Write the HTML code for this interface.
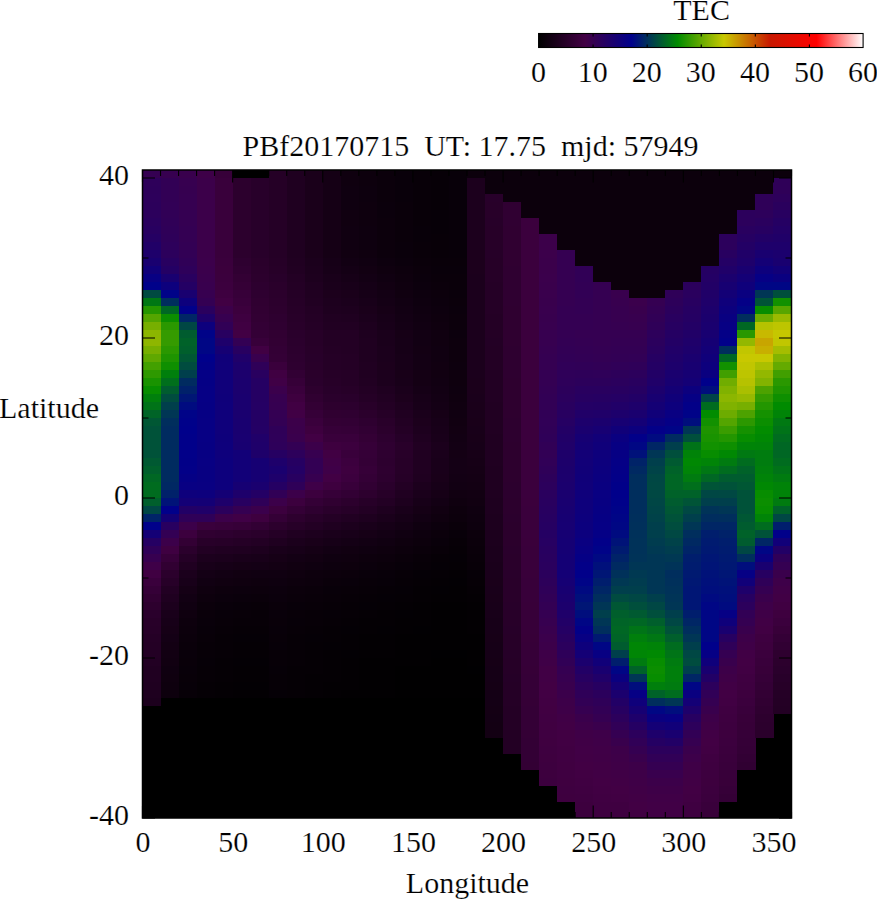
<!DOCTYPE html><html><head><meta charset="utf-8"><title>TEC</title><style>
html,body{margin:0;padding:0;background:#fff;}svg{display:block;}text{font-family:"Liberation Serif",serif;font-size:30px;fill:#000;stroke:#fff;stroke-width:0.2px;}
</style></head><body>
<svg width="877" height="900" viewBox="0 0 877 900">
<rect x="0" y="0" width="877" height="900" fill="#fff"/>
<defs><linearGradient id="cb" x1="0" y1="0" x2="1" y2="0">
<stop offset="0.0000" stop-color="#000000"/>
<stop offset="0.1428" stop-color="#420044"/>
<stop offset="0.2857" stop-color="#00008b"/>
<stop offset="0.4285" stop-color="#008b00"/>
<stop offset="0.5715" stop-color="#c8c800"/>
<stop offset="0.7143" stop-color="#c81800"/>
<stop offset="0.8572" stop-color="#ff0000"/>
<stop offset="1.0000" stop-color="#ffffff"/>
</linearGradient></defs>
<rect x="538.6" y="33.5" width="324.5" height="14" fill="url(#cb)" stroke="#000" stroke-width="1.1"/>
<path d="M593.08 33.5 v3 M593.08 47.5 v-3" stroke="#000" stroke-width="1.1"/>
<path d="M647.17 33.5 v3 M647.17 47.5 v-3" stroke="#000" stroke-width="1.1"/>
<path d="M701.25 33.5 v3 M701.25 47.5 v-3" stroke="#000" stroke-width="1.1"/>
<path d="M755.33 33.5 v3 M755.33 47.5 v-3" stroke="#000" stroke-width="1.1"/>
<path d="M809.42 33.5 v3 M809.42 47.5 v-3" stroke="#000" stroke-width="1.1"/>
<text x="538.60" y="82" text-anchor="middle">0</text>
<text x="592.68" y="82" text-anchor="middle">10</text>
<text x="646.77" y="82" text-anchor="middle">20</text>
<text x="700.85" y="82" text-anchor="middle">30</text>
<text x="754.93" y="82" text-anchor="middle">40</text>
<text x="809.02" y="82" text-anchor="middle">50</text>
<text x="863.10" y="82" text-anchor="middle">60</text>
<text x="701.6" y="20" text-anchor="middle">TEC</text>
<g shape-rendering="crispEdges">
<rect x="142.5" y="170" width="649" height="648" fill="#000"/>
<rect x="142.50" y="698.00" width="18.08" height="8.05" fill="#1c001d"/>
<rect x="142.50" y="690.00" width="18.08" height="8.05" fill="#1e001f"/>
<rect x="142.50" y="682.00" width="18.08" height="8.05" fill="#1f0020"/>
<rect x="142.50" y="666.00" width="18.08" height="16.05" fill="#200021"/>
<rect x="142.50" y="658.00" width="18.08" height="8.05" fill="#220023"/>
<rect x="142.50" y="650.00" width="18.08" height="8.05" fill="#230024"/>
<rect x="142.50" y="642.00" width="18.08" height="8.05" fill="#240025"/>
<rect x="142.50" y="634.00" width="18.08" height="8.05" fill="#250026"/>
<rect x="142.50" y="626.00" width="18.08" height="8.05" fill="#270028"/>
<rect x="142.50" y="618.00" width="18.08" height="8.05" fill="#280029"/>
<rect x="142.50" y="610.00" width="18.08" height="8.05" fill="#2a002c"/>
<rect x="142.50" y="602.00" width="18.08" height="8.05" fill="#2d002e"/>
<rect x="142.50" y="594.00" width="18.08" height="8.05" fill="#310032"/>
<rect x="142.50" y="586.00" width="18.08" height="8.05" fill="#350037"/>
<rect x="142.50" y="578.00" width="18.08" height="8.05" fill="#3a003c"/>
<rect x="142.50" y="570.00" width="18.08" height="8.05" fill="#400042"/>
<rect x="142.50" y="562.00" width="18.08" height="8.05" fill="#3f0048"/>
<rect x="142.50" y="554.00" width="18.08" height="8.05" fill="#370050"/>
<rect x="142.50" y="546.00" width="18.08" height="8.05" fill="#2f0058"/>
<rect x="142.50" y="538.00" width="18.08" height="8.05" fill="#250063"/>
<rect x="142.50" y="530.00" width="18.08" height="8.05" fill="#140076"/>
<rect x="142.50" y="522.00" width="18.08" height="8.05" fill="#00018a"/>
<rect x="142.50" y="514.00" width="18.08" height="8.05" fill="#002368"/>
<rect x="142.50" y="506.00" width="18.08" height="8.05" fill="#004744"/>
<rect x="142.50" y="498.00" width="18.08" height="8.05" fill="#005f2c"/>
<rect x="142.50" y="482.00" width="18.08" height="16.05" fill="#006c1f"/>
<rect x="142.50" y="474.00" width="18.08" height="8.05" fill="#006724"/>
<rect x="142.50" y="466.00" width="18.08" height="8.05" fill="#005f2c"/>
<rect x="142.50" y="458.00" width="18.08" height="8.05" fill="#005932"/>
<rect x="142.50" y="426.00" width="18.08" height="32.05" fill="#005239"/>
<rect x="142.50" y="418.00" width="18.08" height="8.05" fill="#005734"/>
<rect x="142.50" y="410.00" width="18.08" height="8.05" fill="#006427"/>
<rect x="142.50" y="402.00" width="18.08" height="8.05" fill="#007318"/>
<rect x="142.50" y="394.00" width="18.08" height="8.05" fill="#007f0c"/>
<rect x="142.50" y="386.00" width="18.08" height="8.05" fill="#078d00"/>
<rect x="142.50" y="378.00" width="18.08" height="8.05" fill="#199300"/>
<rect x="142.50" y="370.00" width="18.08" height="8.05" fill="#2e9900"/>
<rect x="142.50" y="362.00" width="18.08" height="8.05" fill="#43a000"/>
<rect x="142.50" y="354.00" width="18.08" height="8.05" fill="#5fa800"/>
<rect x="142.50" y="346.00" width="18.08" height="8.05" fill="#77af00"/>
<rect x="142.50" y="338.00" width="18.08" height="8.05" fill="#8eb600"/>
<rect x="142.50" y="330.00" width="18.08" height="8.05" fill="#8cb600"/>
<rect x="142.50" y="322.00" width="18.08" height="8.05" fill="#77af00"/>
<rect x="142.50" y="314.00" width="18.08" height="8.05" fill="#54a500"/>
<rect x="142.50" y="306.00" width="18.08" height="8.05" fill="#259600"/>
<rect x="142.50" y="298.00" width="18.08" height="8.05" fill="#007714"/>
<rect x="142.50" y="290.00" width="18.08" height="8.05" fill="#004a41"/>
<rect x="142.50" y="282.00" width="18.08" height="8.05" fill="#00018a"/>
<rect x="142.50" y="274.00" width="18.08" height="8.05" fill="#080083"/>
<rect x="142.50" y="266.00" width="18.08" height="8.05" fill="#110079"/>
<rect x="142.50" y="258.00" width="18.08" height="8.05" fill="#190070"/>
<rect x="142.50" y="250.00" width="18.08" height="8.05" fill="#1e006b"/>
<rect x="142.50" y="242.00" width="18.08" height="8.05" fill="#210067"/>
<rect x="142.50" y="234.00" width="18.08" height="8.05" fill="#250063"/>
<rect x="142.50" y="226.00" width="18.08" height="8.05" fill="#280060"/>
<rect x="142.50" y="218.00" width="18.08" height="8.05" fill="#2a005e"/>
<rect x="142.50" y="210.00" width="18.08" height="8.05" fill="#2c005c"/>
<rect x="142.50" y="202.00" width="18.08" height="8.05" fill="#2c005b"/>
<rect x="142.50" y="194.00" width="18.08" height="8.05" fill="#2d005b"/>
<rect x="142.50" y="186.00" width="18.08" height="8.05" fill="#2d005a"/>
<rect x="142.50" y="178.00" width="18.08" height="8.05" fill="#2e005a"/>
<rect x="142.50" y="170.00" width="18.08" height="8.05" fill="#350052"/>
<rect x="160.53" y="690.00" width="18.08" height="8.05" fill="#0d000d"/>
<rect x="160.53" y="682.00" width="18.08" height="8.05" fill="#0e000e"/>
<rect x="160.53" y="674.00" width="18.08" height="8.05" fill="#0f000f"/>
<rect x="160.53" y="666.00" width="18.08" height="8.05" fill="#0f0010"/>
<rect x="160.53" y="658.00" width="18.08" height="8.05" fill="#110011"/>
<rect x="160.53" y="650.00" width="18.08" height="8.05" fill="#120012"/>
<rect x="160.53" y="642.00" width="18.08" height="8.05" fill="#130013"/>
<rect x="160.53" y="634.00" width="18.08" height="8.05" fill="#140015"/>
<rect x="160.53" y="626.00" width="18.08" height="8.05" fill="#160016"/>
<rect x="160.53" y="618.00" width="18.08" height="8.05" fill="#170018"/>
<rect x="160.53" y="610.00" width="18.08" height="8.05" fill="#19001a"/>
<rect x="160.53" y="602.00" width="18.08" height="8.05" fill="#1c001d"/>
<rect x="160.53" y="594.00" width="18.08" height="8.05" fill="#1f0020"/>
<rect x="160.53" y="586.00" width="18.08" height="8.05" fill="#220023"/>
<rect x="160.53" y="578.00" width="18.08" height="8.05" fill="#270028"/>
<rect x="160.53" y="570.00" width="18.08" height="8.05" fill="#2b002c"/>
<rect x="160.53" y="562.00" width="18.08" height="8.05" fill="#310032"/>
<rect x="160.53" y="554.00" width="18.08" height="8.05" fill="#370039"/>
<rect x="160.53" y="546.00" width="18.08" height="8.05" fill="#3f0041"/>
<rect x="160.53" y="538.00" width="18.08" height="8.05" fill="#3c004a"/>
<rect x="160.53" y="530.00" width="18.08" height="8.05" fill="#330054"/>
<rect x="160.53" y="522.00" width="18.08" height="8.05" fill="#280060"/>
<rect x="160.53" y="514.00" width="18.08" height="8.05" fill="#140075"/>
<rect x="160.53" y="506.00" width="18.08" height="8.05" fill="#01008a"/>
<rect x="160.53" y="498.00" width="18.08" height="8.05" fill="#001378"/>
<rect x="160.53" y="490.00" width="18.08" height="8.05" fill="#00216a"/>
<rect x="160.53" y="482.00" width="18.08" height="8.05" fill="#002863"/>
<rect x="160.53" y="426.00" width="18.08" height="56.05" fill="#002b60"/>
<rect x="160.53" y="418.00" width="18.08" height="8.05" fill="#002e5d"/>
<rect x="160.53" y="410.00" width="18.08" height="8.05" fill="#003655"/>
<rect x="160.53" y="402.00" width="18.08" height="8.05" fill="#003f4c"/>
<rect x="160.53" y="394.00" width="18.08" height="8.05" fill="#004c3f"/>
<rect x="160.53" y="386.00" width="18.08" height="8.05" fill="#005c2f"/>
<rect x="160.53" y="378.00" width="18.08" height="8.05" fill="#006f1c"/>
<rect x="160.53" y="370.00" width="18.08" height="8.05" fill="#007f0c"/>
<rect x="160.53" y="362.00" width="18.08" height="8.05" fill="#0e8f00"/>
<rect x="160.53" y="354.00" width="18.08" height="8.05" fill="#1e9400"/>
<rect x="160.53" y="346.00" width="18.08" height="8.05" fill="#2a9800"/>
<rect x="160.53" y="330.00" width="18.08" height="16.05" fill="#359b00"/>
<rect x="160.53" y="322.00" width="18.08" height="8.05" fill="#2a9800"/>
<rect x="160.53" y="314.00" width="18.08" height="8.05" fill="#0b8e00"/>
<rect x="160.53" y="306.00" width="18.08" height="8.05" fill="#006724"/>
<rect x="160.53" y="298.00" width="18.08" height="8.05" fill="#002e5d"/>
<rect x="160.53" y="290.00" width="18.08" height="8.05" fill="#000388"/>
<rect x="160.53" y="282.00" width="18.08" height="8.05" fill="#0d007d"/>
<rect x="160.53" y="274.00" width="18.08" height="8.05" fill="#190070"/>
<rect x="160.53" y="266.00" width="18.08" height="8.05" fill="#240064"/>
<rect x="160.53" y="258.00" width="18.08" height="8.05" fill="#280060"/>
<rect x="160.53" y="250.00" width="18.08" height="8.05" fill="#2c005c"/>
<rect x="160.53" y="242.00" width="18.08" height="8.05" fill="#2d005b"/>
<rect x="160.53" y="234.00" width="18.08" height="8.05" fill="#2e0059"/>
<rect x="160.53" y="226.00" width="18.08" height="8.05" fill="#2f0058"/>
<rect x="160.53" y="218.00" width="18.08" height="8.05" fill="#300057"/>
<rect x="160.53" y="210.00" width="18.08" height="8.05" fill="#310056"/>
<rect x="160.53" y="202.00" width="18.08" height="8.05" fill="#320056"/>
<rect x="160.53" y="178.00" width="18.08" height="24.05" fill="#320055"/>
<rect x="160.53" y="170.00" width="18.08" height="8.05" fill="#370050"/>
<rect x="178.56" y="690.00" width="18.08" height="8.05" fill="#070007"/>
<rect x="178.56" y="682.00" width="18.08" height="8.05" fill="#070008"/>
<rect x="178.56" y="674.00" width="18.08" height="8.05" fill="#080008"/>
<rect x="178.56" y="666.00" width="18.08" height="8.05" fill="#080009"/>
<rect x="178.56" y="658.00" width="18.08" height="8.05" fill="#090009"/>
<rect x="178.56" y="650.00" width="18.08" height="8.05" fill="#09000a"/>
<rect x="178.56" y="642.00" width="18.08" height="8.05" fill="#0a000a"/>
<rect x="178.56" y="634.00" width="18.08" height="8.05" fill="#0b000b"/>
<rect x="178.56" y="626.00" width="18.08" height="8.05" fill="#0c000c"/>
<rect x="178.56" y="618.00" width="18.08" height="8.05" fill="#0d000d"/>
<rect x="178.56" y="610.00" width="18.08" height="8.05" fill="#0f000f"/>
<rect x="178.56" y="602.00" width="18.08" height="8.05" fill="#100011"/>
<rect x="178.56" y="594.00" width="18.08" height="8.05" fill="#120013"/>
<rect x="178.56" y="586.00" width="18.08" height="8.05" fill="#150015"/>
<rect x="178.56" y="578.00" width="18.08" height="8.05" fill="#180019"/>
<rect x="178.56" y="570.00" width="18.08" height="8.05" fill="#1b001c"/>
<rect x="178.56" y="562.00" width="18.08" height="8.05" fill="#200021"/>
<rect x="178.56" y="554.00" width="18.08" height="8.05" fill="#250026"/>
<rect x="178.56" y="546.00" width="18.08" height="8.05" fill="#2b002c"/>
<rect x="178.56" y="538.00" width="18.08" height="8.05" fill="#330034"/>
<rect x="178.56" y="530.00" width="18.08" height="8.05" fill="#3c003e"/>
<rect x="178.56" y="522.00" width="18.08" height="8.05" fill="#3c004a"/>
<rect x="178.56" y="514.00" width="18.08" height="8.05" fill="#2f0058"/>
<rect x="178.56" y="506.00" width="18.08" height="8.05" fill="#220066"/>
<rect x="178.56" y="498.00" width="18.08" height="8.05" fill="#140076"/>
<rect x="178.56" y="490.00" width="18.08" height="8.05" fill="#0e007c"/>
<rect x="178.56" y="482.00" width="18.08" height="8.05" fill="#080083"/>
<rect x="178.56" y="474.00" width="18.08" height="8.05" fill="#050085"/>
<rect x="178.56" y="466.00" width="18.08" height="8.05" fill="#030088"/>
<rect x="178.56" y="458.00" width="18.08" height="8.05" fill="#020088"/>
<rect x="178.56" y="450.00" width="18.08" height="8.05" fill="#020089"/>
<rect x="178.56" y="434.00" width="18.08" height="16.05" fill="#01008a"/>
<rect x="178.56" y="426.00" width="18.08" height="8.05" fill="#00008b"/>
<rect x="178.56" y="418.00" width="18.08" height="8.05" fill="#00018a"/>
<rect x="178.56" y="410.00" width="18.08" height="8.05" fill="#000388"/>
<rect x="178.56" y="402.00" width="18.08" height="8.05" fill="#000b80"/>
<rect x="178.56" y="394.00" width="18.08" height="8.05" fill="#001675"/>
<rect x="178.56" y="386.00" width="18.08" height="8.05" fill="#00216a"/>
<rect x="178.56" y="378.00" width="18.08" height="8.05" fill="#002b60"/>
<rect x="178.56" y="370.00" width="18.08" height="8.05" fill="#003f4c"/>
<rect x="178.56" y="362.00" width="18.08" height="8.05" fill="#004c3f"/>
<rect x="178.56" y="354.00" width="18.08" height="8.05" fill="#005734"/>
<rect x="178.56" y="346.00" width="18.08" height="8.05" fill="#005f2c"/>
<rect x="178.56" y="338.00" width="18.08" height="8.05" fill="#006229"/>
<rect x="178.56" y="330.00" width="18.08" height="8.05" fill="#005c2f"/>
<rect x="178.56" y="322.00" width="18.08" height="8.05" fill="#004744"/>
<rect x="178.56" y="314.00" width="18.08" height="8.05" fill="#002665"/>
<rect x="178.56" y="306.00" width="18.08" height="8.05" fill="#01008a"/>
<rect x="178.56" y="298.00" width="18.08" height="8.05" fill="#0d007d"/>
<rect x="178.56" y="290.00" width="18.08" height="8.05" fill="#190070"/>
<rect x="178.56" y="282.00" width="18.08" height="8.05" fill="#240064"/>
<rect x="178.56" y="274.00" width="18.08" height="8.05" fill="#29005f"/>
<rect x="178.56" y="266.00" width="18.08" height="8.05" fill="#2e005a"/>
<rect x="178.56" y="258.00" width="18.08" height="8.05" fill="#300057"/>
<rect x="178.56" y="250.00" width="18.08" height="8.05" fill="#320055"/>
<rect x="178.56" y="242.00" width="18.08" height="8.05" fill="#330054"/>
<rect x="178.56" y="226.00" width="18.08" height="16.05" fill="#340053"/>
<rect x="178.56" y="210.00" width="18.08" height="16.05" fill="#350052"/>
<rect x="178.56" y="194.00" width="18.08" height="16.05" fill="#360051"/>
<rect x="178.56" y="186.00" width="18.08" height="8.05" fill="#360050"/>
<rect x="178.56" y="178.00" width="18.08" height="8.05" fill="#370050"/>
<rect x="178.56" y="170.00" width="18.08" height="8.05" fill="#39004d"/>
<rect x="196.58" y="682.00" width="18.08" height="16.05" fill="#050005"/>
<rect x="196.58" y="666.00" width="18.08" height="16.05" fill="#060006"/>
<rect x="196.58" y="658.00" width="18.08" height="8.05" fill="#060007"/>
<rect x="196.58" y="642.00" width="18.08" height="16.05" fill="#070007"/>
<rect x="196.58" y="634.00" width="18.08" height="8.05" fill="#080008"/>
<rect x="196.58" y="626.00" width="18.08" height="8.05" fill="#080009"/>
<rect x="196.58" y="618.00" width="18.08" height="8.05" fill="#09000a"/>
<rect x="196.58" y="610.00" width="18.08" height="8.05" fill="#0a000a"/>
<rect x="196.58" y="602.00" width="18.08" height="8.05" fill="#0b000b"/>
<rect x="196.58" y="594.00" width="18.08" height="8.05" fill="#0d000d"/>
<rect x="196.58" y="586.00" width="18.08" height="8.05" fill="#0f000f"/>
<rect x="196.58" y="578.00" width="18.08" height="8.05" fill="#110012"/>
<rect x="196.58" y="570.00" width="18.08" height="8.05" fill="#140015"/>
<rect x="196.58" y="562.00" width="18.08" height="8.05" fill="#180019"/>
<rect x="196.58" y="554.00" width="18.08" height="8.05" fill="#1c001d"/>
<rect x="196.58" y="546.00" width="18.08" height="8.05" fill="#220023"/>
<rect x="196.58" y="538.00" width="18.08" height="8.05" fill="#280029"/>
<rect x="196.58" y="530.00" width="18.08" height="8.05" fill="#300031"/>
<rect x="196.58" y="522.00" width="18.08" height="8.05" fill="#3a003c"/>
<rect x="196.58" y="514.00" width="18.08" height="8.05" fill="#2f0058"/>
<rect x="196.58" y="506.00" width="18.08" height="8.05" fill="#200069"/>
<rect x="196.58" y="498.00" width="18.08" height="8.05" fill="#140075"/>
<rect x="196.58" y="490.00" width="18.08" height="8.05" fill="#0d007d"/>
<rect x="196.58" y="482.00" width="18.08" height="8.05" fill="#090082"/>
<rect x="196.58" y="466.00" width="18.08" height="16.05" fill="#080082"/>
<rect x="196.58" y="458.00" width="18.08" height="8.05" fill="#080083"/>
<rect x="196.58" y="442.00" width="18.08" height="16.05" fill="#070083"/>
<rect x="196.58" y="418.00" width="18.08" height="24.05" fill="#070084"/>
<rect x="196.58" y="402.00" width="18.08" height="16.05" fill="#060084"/>
<rect x="196.58" y="386.00" width="18.08" height="16.05" fill="#060085"/>
<rect x="196.58" y="378.00" width="18.08" height="8.05" fill="#050085"/>
<rect x="196.58" y="370.00" width="18.08" height="8.05" fill="#050086"/>
<rect x="196.58" y="362.00" width="18.08" height="8.05" fill="#020088"/>
<rect x="196.58" y="354.00" width="18.08" height="8.05" fill="#00008b"/>
<rect x="196.58" y="338.00" width="18.08" height="16.05" fill="#000685"/>
<rect x="196.58" y="330.00" width="18.08" height="8.05" fill="#000388"/>
<rect x="196.58" y="322.00" width="18.08" height="8.05" fill="#0d007d"/>
<rect x="196.58" y="314.00" width="18.08" height="8.05" fill="#1e006b"/>
<rect x="196.58" y="306.00" width="18.08" height="8.05" fill="#2a005e"/>
<rect x="196.58" y="298.00" width="18.08" height="8.05" fill="#340053"/>
<rect x="196.58" y="290.00" width="18.08" height="8.05" fill="#370050"/>
<rect x="196.58" y="282.00" width="18.08" height="8.05" fill="#39004e"/>
<rect x="196.58" y="274.00" width="18.08" height="8.05" fill="#3a004d"/>
<rect x="196.58" y="266.00" width="18.08" height="8.05" fill="#3b004c"/>
<rect x="196.58" y="258.00" width="18.08" height="8.05" fill="#3c004b"/>
<rect x="196.58" y="178.00" width="18.08" height="80.05" fill="#3c004a"/>
<rect x="196.58" y="170.00" width="18.08" height="8.05" fill="#3e0048"/>
<rect x="214.61" y="682.00" width="18.08" height="16.05" fill="#040004"/>
<rect x="214.61" y="658.00" width="18.08" height="24.05" fill="#050005"/>
<rect x="214.61" y="634.00" width="18.08" height="24.05" fill="#060006"/>
<rect x="214.61" y="626.00" width="18.08" height="8.05" fill="#070007"/>
<rect x="214.61" y="618.00" width="18.08" height="8.05" fill="#080008"/>
<rect x="214.61" y="610.00" width="18.08" height="8.05" fill="#080009"/>
<rect x="214.61" y="602.00" width="18.08" height="8.05" fill="#09000a"/>
<rect x="214.61" y="594.00" width="18.08" height="8.05" fill="#0b000c"/>
<rect x="214.61" y="586.00" width="18.08" height="8.05" fill="#0d000d"/>
<rect x="214.61" y="578.00" width="18.08" height="8.05" fill="#100010"/>
<rect x="214.61" y="570.00" width="18.08" height="8.05" fill="#120013"/>
<rect x="214.61" y="562.00" width="18.08" height="8.05" fill="#160017"/>
<rect x="214.61" y="554.00" width="18.08" height="8.05" fill="#1b001c"/>
<rect x="214.61" y="546.00" width="18.08" height="8.05" fill="#200021"/>
<rect x="214.61" y="538.00" width="18.08" height="8.05" fill="#270028"/>
<rect x="214.61" y="530.00" width="18.08" height="8.05" fill="#2e0030"/>
<rect x="214.61" y="522.00" width="18.08" height="8.05" fill="#38003a"/>
<rect x="214.61" y="514.00" width="18.08" height="8.05" fill="#3c004a"/>
<rect x="214.61" y="506.00" width="18.08" height="8.05" fill="#2b005c"/>
<rect x="214.61" y="498.00" width="18.08" height="8.05" fill="#1e006b"/>
<rect x="214.61" y="490.00" width="18.08" height="8.05" fill="#140075"/>
<rect x="214.61" y="458.00" width="18.08" height="32.05" fill="#0d007d"/>
<rect x="214.61" y="442.00" width="18.08" height="16.05" fill="#0e007c"/>
<rect x="214.61" y="434.00" width="18.08" height="8.05" fill="#0e007b"/>
<rect x="214.61" y="402.00" width="18.08" height="32.05" fill="#0f007b"/>
<rect x="214.61" y="394.00" width="18.08" height="8.05" fill="#0f007a"/>
<rect x="214.61" y="362.00" width="18.08" height="32.05" fill="#10007a"/>
<rect x="214.61" y="354.00" width="18.08" height="8.05" fill="#100079"/>
<rect x="214.61" y="346.00" width="18.08" height="8.05" fill="#160073"/>
<rect x="214.61" y="338.00" width="18.08" height="8.05" fill="#1e006b"/>
<rect x="214.61" y="330.00" width="18.08" height="8.05" fill="#280060"/>
<rect x="214.61" y="322.00" width="18.08" height="8.05" fill="#310056"/>
<rect x="214.61" y="314.00" width="18.08" height="8.05" fill="#370050"/>
<rect x="214.61" y="306.00" width="18.08" height="8.05" fill="#3c004a"/>
<rect x="214.61" y="298.00" width="18.08" height="8.05" fill="#410043"/>
<rect x="214.61" y="290.00" width="18.08" height="8.05" fill="#3e0040"/>
<rect x="214.61" y="282.00" width="18.08" height="8.05" fill="#3c003e"/>
<rect x="214.61" y="274.00" width="18.08" height="8.05" fill="#3b003d"/>
<rect x="214.61" y="266.00" width="18.08" height="8.05" fill="#3b003c"/>
<rect x="214.61" y="258.00" width="18.08" height="8.05" fill="#3a003c"/>
<rect x="214.61" y="178.00" width="18.08" height="80.05" fill="#39003b"/>
<rect x="214.61" y="170.00" width="18.08" height="8.05" fill="#370039"/>
<rect x="232.64" y="690.00" width="18.08" height="8.05" fill="#030003"/>
<rect x="232.64" y="682.00" width="18.08" height="8.05" fill="#030004"/>
<rect x="232.64" y="666.00" width="18.08" height="16.05" fill="#040004"/>
<rect x="232.64" y="658.00" width="18.08" height="8.05" fill="#040005"/>
<rect x="232.64" y="642.00" width="18.08" height="16.05" fill="#050005"/>
<rect x="232.64" y="634.00" width="18.08" height="8.05" fill="#050006"/>
<rect x="232.64" y="626.00" width="18.08" height="8.05" fill="#060006"/>
<rect x="232.64" y="618.00" width="18.08" height="8.05" fill="#070007"/>
<rect x="232.64" y="610.00" width="18.08" height="8.05" fill="#080008"/>
<rect x="232.64" y="602.00" width="18.08" height="8.05" fill="#080009"/>
<rect x="232.64" y="594.00" width="18.08" height="8.05" fill="#0a000b"/>
<rect x="232.64" y="586.00" width="18.08" height="8.05" fill="#0c000d"/>
<rect x="232.64" y="578.00" width="18.08" height="8.05" fill="#0f000f"/>
<rect x="232.64" y="570.00" width="18.08" height="8.05" fill="#110011"/>
<rect x="232.64" y="562.00" width="18.08" height="8.05" fill="#150015"/>
<rect x="232.64" y="554.00" width="18.08" height="8.05" fill="#19001a"/>
<rect x="232.64" y="546.00" width="18.08" height="8.05" fill="#1f0020"/>
<rect x="232.64" y="538.00" width="18.08" height="8.05" fill="#250026"/>
<rect x="232.64" y="530.00" width="18.08" height="8.05" fill="#2c002d"/>
<rect x="232.64" y="522.00" width="18.08" height="8.05" fill="#360038"/>
<rect x="232.64" y="514.00" width="18.08" height="8.05" fill="#400046"/>
<rect x="232.64" y="506.00" width="18.08" height="8.05" fill="#350052"/>
<rect x="232.64" y="498.00" width="18.08" height="8.05" fill="#280060"/>
<rect x="232.64" y="490.00" width="18.08" height="8.05" fill="#1e006b"/>
<rect x="232.64" y="482.00" width="18.08" height="8.05" fill="#160073"/>
<rect x="232.64" y="450.00" width="18.08" height="32.05" fill="#120078"/>
<rect x="232.64" y="442.00" width="18.08" height="8.05" fill="#180071"/>
<rect x="232.64" y="434.00" width="18.08" height="8.05" fill="#190071"/>
<rect x="232.64" y="418.00" width="18.08" height="16.05" fill="#190070"/>
<rect x="232.64" y="394.00" width="18.08" height="24.05" fill="#1a006f"/>
<rect x="232.64" y="378.00" width="18.08" height="16.05" fill="#1b006e"/>
<rect x="232.64" y="362.00" width="18.08" height="16.05" fill="#1c006d"/>
<rect x="232.64" y="354.00" width="18.08" height="8.05" fill="#200069"/>
<rect x="232.64" y="346.00" width="18.08" height="8.05" fill="#280060"/>
<rect x="232.64" y="338.00" width="18.08" height="8.05" fill="#330054"/>
<rect x="232.64" y="330.00" width="18.08" height="8.05" fill="#420044"/>
<rect x="232.64" y="322.00" width="18.08" height="8.05" fill="#400042"/>
<rect x="232.64" y="314.00" width="18.08" height="8.05" fill="#3e0040"/>
<rect x="232.64" y="306.00" width="18.08" height="8.05" fill="#3c003d"/>
<rect x="232.64" y="298.00" width="18.08" height="8.05" fill="#39003b"/>
<rect x="232.64" y="290.00" width="18.08" height="8.05" fill="#370039"/>
<rect x="232.64" y="282.00" width="18.08" height="8.05" fill="#350036"/>
<rect x="232.64" y="274.00" width="18.08" height="8.05" fill="#330034"/>
<rect x="232.64" y="266.00" width="18.08" height="8.05" fill="#300032"/>
<rect x="232.64" y="258.00" width="18.08" height="8.05" fill="#2e0030"/>
<rect x="232.64" y="178.00" width="18.08" height="80.05" fill="#2c002d"/>
<rect x="250.67" y="690.00" width="18.08" height="8.05" fill="#030003"/>
<rect x="250.67" y="682.00" width="18.08" height="8.05" fill="#030004"/>
<rect x="250.67" y="666.00" width="18.08" height="16.05" fill="#040004"/>
<rect x="250.67" y="658.00" width="18.08" height="8.05" fill="#040005"/>
<rect x="250.67" y="642.00" width="18.08" height="16.05" fill="#050005"/>
<rect x="250.67" y="634.00" width="18.08" height="8.05" fill="#050006"/>
<rect x="250.67" y="626.00" width="18.08" height="8.05" fill="#060006"/>
<rect x="250.67" y="610.00" width="18.08" height="16.05" fill="#070007"/>
<rect x="250.67" y="602.00" width="18.08" height="8.05" fill="#080008"/>
<rect x="250.67" y="594.00" width="18.08" height="8.05" fill="#0a000a"/>
<rect x="250.67" y="586.00" width="18.08" height="8.05" fill="#0c000c"/>
<rect x="250.67" y="578.00" width="18.08" height="8.05" fill="#0e000e"/>
<rect x="250.67" y="570.00" width="18.08" height="8.05" fill="#100011"/>
<rect x="250.67" y="562.00" width="18.08" height="8.05" fill="#140015"/>
<rect x="250.67" y="554.00" width="18.08" height="8.05" fill="#180019"/>
<rect x="250.67" y="546.00" width="18.08" height="8.05" fill="#1d001e"/>
<rect x="250.67" y="538.00" width="18.08" height="8.05" fill="#230024"/>
<rect x="250.67" y="530.00" width="18.08" height="8.05" fill="#2a002b"/>
<rect x="250.67" y="522.00" width="18.08" height="8.05" fill="#320034"/>
<rect x="250.67" y="514.00" width="18.08" height="8.05" fill="#3e003f"/>
<rect x="250.67" y="506.00" width="18.08" height="8.05" fill="#3b004c"/>
<rect x="250.67" y="498.00" width="18.08" height="8.05" fill="#2f0058"/>
<rect x="250.67" y="490.00" width="18.08" height="8.05" fill="#240065"/>
<rect x="250.67" y="482.00" width="18.08" height="8.05" fill="#1a006f"/>
<rect x="250.67" y="458.00" width="18.08" height="24.05" fill="#160073"/>
<rect x="250.67" y="450.00" width="18.08" height="8.05" fill="#1e006a"/>
<rect x="250.67" y="442.00" width="18.08" height="8.05" fill="#1f006a"/>
<rect x="250.67" y="434.00" width="18.08" height="8.05" fill="#200069"/>
<rect x="250.67" y="426.00" width="18.08" height="8.05" fill="#240065"/>
<rect x="250.67" y="410.00" width="18.08" height="16.05" fill="#240064"/>
<rect x="250.67" y="402.00" width="18.08" height="8.05" fill="#250064"/>
<rect x="250.67" y="378.00" width="18.08" height="24.05" fill="#250063"/>
<rect x="250.67" y="370.00" width="18.08" height="8.05" fill="#29005f"/>
<rect x="250.67" y="362.00" width="18.08" height="8.05" fill="#2f0058"/>
<rect x="250.67" y="354.00" width="18.08" height="8.05" fill="#39004e"/>
<rect x="250.67" y="346.00" width="18.08" height="8.05" fill="#410043"/>
<rect x="250.67" y="338.00" width="18.08" height="8.05" fill="#38003a"/>
<rect x="250.67" y="330.00" width="18.08" height="8.05" fill="#340036"/>
<rect x="250.67" y="322.00" width="18.08" height="8.05" fill="#330035"/>
<rect x="250.67" y="314.00" width="18.08" height="8.05" fill="#320033"/>
<rect x="250.67" y="306.00" width="18.08" height="8.05" fill="#310032"/>
<rect x="250.67" y="298.00" width="18.08" height="8.05" fill="#300031"/>
<rect x="250.67" y="290.00" width="18.08" height="8.05" fill="#2e0030"/>
<rect x="250.67" y="282.00" width="18.08" height="8.05" fill="#2d002f"/>
<rect x="250.67" y="274.00" width="18.08" height="8.05" fill="#2c002d"/>
<rect x="250.67" y="266.00" width="18.08" height="8.05" fill="#2b002c"/>
<rect x="250.67" y="258.00" width="18.08" height="8.05" fill="#2a002b"/>
<rect x="250.67" y="178.00" width="18.08" height="80.05" fill="#28002a"/>
<rect x="268.69" y="690.00" width="18.08" height="8.05" fill="#050006"/>
<rect x="268.69" y="674.00" width="18.08" height="16.05" fill="#060006"/>
<rect x="268.69" y="666.00" width="18.08" height="8.05" fill="#060007"/>
<rect x="268.69" y="650.00" width="18.08" height="16.05" fill="#070007"/>
<rect x="268.69" y="642.00" width="18.08" height="8.05" fill="#070008"/>
<rect x="268.69" y="634.00" width="18.08" height="8.05" fill="#080008"/>
<rect x="268.69" y="626.00" width="18.08" height="8.05" fill="#080009"/>
<rect x="268.69" y="618.00" width="18.08" height="8.05" fill="#090009"/>
<rect x="268.69" y="610.00" width="18.08" height="8.05" fill="#09000a"/>
<rect x="268.69" y="602.00" width="18.08" height="8.05" fill="#0a000a"/>
<rect x="268.69" y="594.00" width="18.08" height="8.05" fill="#0b000c"/>
<rect x="268.69" y="586.00" width="18.08" height="8.05" fill="#0c000d"/>
<rect x="268.69" y="578.00" width="18.08" height="8.05" fill="#0e000f"/>
<rect x="268.69" y="570.00" width="18.08" height="8.05" fill="#100011"/>
<rect x="268.69" y="562.00" width="18.08" height="8.05" fill="#130013"/>
<rect x="268.69" y="554.00" width="18.08" height="8.05" fill="#160016"/>
<rect x="268.69" y="546.00" width="18.08" height="8.05" fill="#19001a"/>
<rect x="268.69" y="538.00" width="18.08" height="8.05" fill="#1f0020"/>
<rect x="268.69" y="530.00" width="18.08" height="8.05" fill="#250026"/>
<rect x="268.69" y="522.00" width="18.08" height="8.05" fill="#2c002d"/>
<rect x="268.69" y="514.00" width="18.08" height="8.05" fill="#340036"/>
<rect x="268.69" y="506.00" width="18.08" height="8.05" fill="#3c003e"/>
<rect x="268.69" y="498.00" width="18.08" height="8.05" fill="#3c004a"/>
<rect x="268.69" y="490.00" width="18.08" height="8.05" fill="#310056"/>
<rect x="268.69" y="482.00" width="18.08" height="8.05" fill="#250063"/>
<rect x="268.69" y="474.00" width="18.08" height="8.05" fill="#1e006b"/>
<rect x="268.69" y="466.00" width="18.08" height="8.05" fill="#1a006f"/>
<rect x="268.69" y="458.00" width="18.08" height="8.05" fill="#1e006b"/>
<rect x="268.69" y="450.00" width="18.08" height="8.05" fill="#260062"/>
<rect x="268.69" y="442.00" width="18.08" height="8.05" fill="#2e005a"/>
<rect x="268.69" y="434.00" width="18.08" height="8.05" fill="#2f0059"/>
<rect x="268.69" y="426.00" width="18.08" height="8.05" fill="#2f0058"/>
<rect x="268.69" y="418.00" width="18.08" height="8.05" fill="#330054"/>
<rect x="268.69" y="410.00" width="18.08" height="8.05" fill="#340053"/>
<rect x="268.69" y="402.00" width="18.08" height="8.05" fill="#360051"/>
<rect x="268.69" y="394.00" width="18.08" height="8.05" fill="#370050"/>
<rect x="268.69" y="386.00" width="18.08" height="8.05" fill="#3b004c"/>
<rect x="268.69" y="378.00" width="18.08" height="8.05" fill="#400046"/>
<rect x="268.69" y="370.00" width="18.08" height="8.05" fill="#400042"/>
<rect x="268.69" y="362.00" width="18.08" height="8.05" fill="#3a003c"/>
<rect x="268.69" y="354.00" width="18.08" height="8.05" fill="#340036"/>
<rect x="268.69" y="346.00" width="18.08" height="8.05" fill="#330035"/>
<rect x="268.69" y="338.00" width="18.08" height="8.05" fill="#320033"/>
<rect x="268.69" y="330.00" width="18.08" height="8.05" fill="#310032"/>
<rect x="268.69" y="322.00" width="18.08" height="8.05" fill="#2f0031"/>
<rect x="268.69" y="314.00" width="18.08" height="8.05" fill="#2e0030"/>
<rect x="268.69" y="306.00" width="18.08" height="8.05" fill="#2d002e"/>
<rect x="268.69" y="298.00" width="18.08" height="8.05" fill="#2c002d"/>
<rect x="268.69" y="290.00" width="18.08" height="8.05" fill="#2b002c"/>
<rect x="268.69" y="282.00" width="18.08" height="8.05" fill="#2a002b"/>
<rect x="268.69" y="274.00" width="18.08" height="8.05" fill="#28002a"/>
<rect x="268.69" y="266.00" width="18.08" height="8.05" fill="#270028"/>
<rect x="268.69" y="258.00" width="18.08" height="8.05" fill="#260027"/>
<rect x="268.69" y="170.00" width="18.08" height="88.05" fill="#250026"/>
<rect x="286.72" y="666.00" width="18.08" height="32.05" fill="#050005"/>
<rect x="286.72" y="634.00" width="18.08" height="32.05" fill="#060006"/>
<rect x="286.72" y="626.00" width="18.08" height="8.05" fill="#070007"/>
<rect x="286.72" y="618.00" width="18.08" height="8.05" fill="#070008"/>
<rect x="286.72" y="610.00" width="18.08" height="8.05" fill="#080008"/>
<rect x="286.72" y="602.00" width="18.08" height="8.05" fill="#080009"/>
<rect x="286.72" y="594.00" width="18.08" height="8.05" fill="#0a000a"/>
<rect x="286.72" y="586.00" width="18.08" height="8.05" fill="#0b000b"/>
<rect x="286.72" y="578.00" width="18.08" height="8.05" fill="#0d000d"/>
<rect x="286.72" y="570.00" width="18.08" height="8.05" fill="#0f000f"/>
<rect x="286.72" y="562.00" width="18.08" height="8.05" fill="#110011"/>
<rect x="286.72" y="554.00" width="18.08" height="8.05" fill="#130014"/>
<rect x="286.72" y="546.00" width="18.08" height="8.05" fill="#170018"/>
<rect x="286.72" y="538.00" width="18.08" height="8.05" fill="#1b001c"/>
<rect x="286.72" y="530.00" width="18.08" height="8.05" fill="#200021"/>
<rect x="286.72" y="522.00" width="18.08" height="8.05" fill="#270028"/>
<rect x="286.72" y="514.00" width="18.08" height="8.05" fill="#2d002e"/>
<rect x="286.72" y="506.00" width="18.08" height="8.05" fill="#340036"/>
<rect x="286.72" y="498.00" width="18.08" height="8.05" fill="#3c003e"/>
<rect x="286.72" y="490.00" width="18.08" height="8.05" fill="#3c004a"/>
<rect x="286.72" y="482.00" width="18.08" height="8.05" fill="#2f0058"/>
<rect x="286.72" y="474.00" width="18.08" height="8.05" fill="#280060"/>
<rect x="286.72" y="466.00" width="18.08" height="8.05" fill="#240065"/>
<rect x="286.72" y="458.00" width="18.08" height="8.05" fill="#260062"/>
<rect x="286.72" y="450.00" width="18.08" height="8.05" fill="#2d005b"/>
<rect x="286.72" y="442.00" width="18.08" height="8.05" fill="#330054"/>
<rect x="286.72" y="434.00" width="18.08" height="8.05" fill="#3a004d"/>
<rect x="286.72" y="426.00" width="18.08" height="8.05" fill="#3b004b"/>
<rect x="286.72" y="418.00" width="18.08" height="8.05" fill="#3c004a"/>
<rect x="286.72" y="410.00" width="18.08" height="8.05" fill="#410045"/>
<rect x="286.72" y="402.00" width="18.08" height="8.05" fill="#410043"/>
<rect x="286.72" y="394.00" width="18.08" height="8.05" fill="#3e003f"/>
<rect x="286.72" y="386.00" width="18.08" height="8.05" fill="#3a003c"/>
<rect x="286.72" y="378.00" width="18.08" height="8.05" fill="#360038"/>
<rect x="286.72" y="370.00" width="18.08" height="8.05" fill="#320034"/>
<rect x="286.72" y="362.00" width="18.08" height="8.05" fill="#2e0030"/>
<rect x="286.72" y="354.00" width="18.08" height="8.05" fill="#2d002f"/>
<rect x="286.72" y="346.00" width="18.08" height="8.05" fill="#2c002e"/>
<rect x="286.72" y="338.00" width="18.08" height="8.05" fill="#2b002d"/>
<rect x="286.72" y="330.00" width="18.08" height="8.05" fill="#2a002c"/>
<rect x="286.72" y="322.00" width="18.08" height="8.05" fill="#29002a"/>
<rect x="286.72" y="314.00" width="18.08" height="8.05" fill="#280029"/>
<rect x="286.72" y="306.00" width="18.08" height="8.05" fill="#270028"/>
<rect x="286.72" y="298.00" width="18.08" height="8.05" fill="#260027"/>
<rect x="286.72" y="290.00" width="18.08" height="8.05" fill="#250026"/>
<rect x="286.72" y="282.00" width="18.08" height="8.05" fill="#240025"/>
<rect x="286.72" y="274.00" width="18.08" height="8.05" fill="#230024"/>
<rect x="286.72" y="266.00" width="18.08" height="8.05" fill="#210022"/>
<rect x="286.72" y="258.00" width="18.08" height="8.05" fill="#200021"/>
<rect x="286.72" y="170.00" width="18.08" height="88.05" fill="#1f0020"/>
<rect x="304.75" y="674.00" width="18.08" height="24.05" fill="#040004"/>
<rect x="304.75" y="642.00" width="18.08" height="32.05" fill="#050005"/>
<rect x="304.75" y="634.00" width="18.08" height="8.05" fill="#050006"/>
<rect x="304.75" y="626.00" width="18.08" height="8.05" fill="#060006"/>
<rect x="304.75" y="610.00" width="18.08" height="16.05" fill="#070007"/>
<rect x="304.75" y="602.00" width="18.08" height="8.05" fill="#080008"/>
<rect x="304.75" y="594.00" width="18.08" height="8.05" fill="#090009"/>
<rect x="304.75" y="586.00" width="18.08" height="8.05" fill="#0a000a"/>
<rect x="304.75" y="578.00" width="18.08" height="8.05" fill="#0c000c"/>
<rect x="304.75" y="570.00" width="18.08" height="8.05" fill="#0d000d"/>
<rect x="304.75" y="562.00" width="18.08" height="8.05" fill="#0f0010"/>
<rect x="304.75" y="554.00" width="18.08" height="8.05" fill="#120012"/>
<rect x="304.75" y="546.00" width="18.08" height="8.05" fill="#150015"/>
<rect x="304.75" y="538.00" width="18.08" height="8.05" fill="#190019"/>
<rect x="304.75" y="530.00" width="18.08" height="8.05" fill="#1d001e"/>
<rect x="304.75" y="522.00" width="18.08" height="8.05" fill="#230024"/>
<rect x="304.75" y="514.00" width="18.08" height="8.05" fill="#280029"/>
<rect x="304.75" y="506.00" width="18.08" height="8.05" fill="#2e0030"/>
<rect x="304.75" y="498.00" width="18.08" height="8.05" fill="#340036"/>
<rect x="304.75" y="490.00" width="18.08" height="8.05" fill="#3c003e"/>
<rect x="304.75" y="482.00" width="18.08" height="8.05" fill="#3f0048"/>
<rect x="304.75" y="474.00" width="18.08" height="8.05" fill="#370050"/>
<rect x="304.75" y="458.00" width="18.08" height="16.05" fill="#330054"/>
<rect x="304.75" y="450.00" width="18.08" height="8.05" fill="#370050"/>
<rect x="304.75" y="442.00" width="18.08" height="8.05" fill="#3c004a"/>
<rect x="304.75" y="434.00" width="18.08" height="8.05" fill="#420044"/>
<rect x="304.75" y="426.00" width="18.08" height="8.05" fill="#3e003f"/>
<rect x="304.75" y="418.00" width="18.08" height="8.05" fill="#3a003c"/>
<rect x="304.75" y="410.00" width="18.08" height="8.05" fill="#360038"/>
<rect x="304.75" y="402.00" width="18.08" height="8.05" fill="#330034"/>
<rect x="304.75" y="394.00" width="18.08" height="8.05" fill="#300031"/>
<rect x="304.75" y="386.00" width="18.08" height="8.05" fill="#2d002e"/>
<rect x="304.75" y="378.00" width="18.08" height="8.05" fill="#2a002c"/>
<rect x="304.75" y="370.00" width="18.08" height="8.05" fill="#2a002b"/>
<rect x="304.75" y="362.00" width="18.08" height="8.05" fill="#29002a"/>
<rect x="304.75" y="354.00" width="18.08" height="8.05" fill="#28002a"/>
<rect x="304.75" y="346.00" width="18.08" height="8.05" fill="#280029"/>
<rect x="304.75" y="330.00" width="18.08" height="16.05" fill="#270028"/>
<rect x="304.75" y="322.00" width="18.08" height="8.05" fill="#250026"/>
<rect x="304.75" y="314.00" width="18.08" height="8.05" fill="#240025"/>
<rect x="304.75" y="306.00" width="18.08" height="8.05" fill="#230024"/>
<rect x="304.75" y="298.00" width="18.08" height="8.05" fill="#210022"/>
<rect x="304.75" y="290.00" width="18.08" height="8.05" fill="#200021"/>
<rect x="304.75" y="282.00" width="18.08" height="8.05" fill="#1f0020"/>
<rect x="304.75" y="274.00" width="18.08" height="8.05" fill="#1d001e"/>
<rect x="304.75" y="266.00" width="18.08" height="8.05" fill="#1c001d"/>
<rect x="304.75" y="258.00" width="18.08" height="8.05" fill="#1b001c"/>
<rect x="304.75" y="170.00" width="18.08" height="88.05" fill="#1a001a"/>
<rect x="322.78" y="682.00" width="18.08" height="16.05" fill="#030003"/>
<rect x="322.78" y="650.00" width="18.08" height="32.05" fill="#040004"/>
<rect x="322.78" y="642.00" width="18.08" height="8.05" fill="#040005"/>
<rect x="322.78" y="626.00" width="18.08" height="16.05" fill="#050005"/>
<rect x="322.78" y="618.00" width="18.08" height="8.05" fill="#060006"/>
<rect x="322.78" y="610.00" width="18.08" height="8.05" fill="#060007"/>
<rect x="322.78" y="602.00" width="18.08" height="8.05" fill="#070007"/>
<rect x="322.78" y="594.00" width="18.08" height="8.05" fill="#080008"/>
<rect x="322.78" y="586.00" width="18.08" height="8.05" fill="#080009"/>
<rect x="322.78" y="578.00" width="18.08" height="8.05" fill="#0a000a"/>
<rect x="322.78" y="570.00" width="18.08" height="8.05" fill="#0c000c"/>
<rect x="322.78" y="562.00" width="18.08" height="8.05" fill="#0d000e"/>
<rect x="322.78" y="554.00" width="18.08" height="8.05" fill="#0f0010"/>
<rect x="322.78" y="546.00" width="18.08" height="8.05" fill="#120013"/>
<rect x="322.78" y="538.00" width="18.08" height="8.05" fill="#160017"/>
<rect x="322.78" y="530.00" width="18.08" height="8.05" fill="#1a001b"/>
<rect x="322.78" y="522.00" width="18.08" height="8.05" fill="#1f0020"/>
<rect x="322.78" y="514.00" width="18.08" height="8.05" fill="#240025"/>
<rect x="322.78" y="506.00" width="18.08" height="8.05" fill="#2a002b"/>
<rect x="322.78" y="498.00" width="18.08" height="8.05" fill="#300031"/>
<rect x="322.78" y="490.00" width="18.08" height="8.05" fill="#360038"/>
<rect x="322.78" y="482.00" width="18.08" height="8.05" fill="#3e003f"/>
<rect x="322.78" y="474.00" width="18.08" height="8.05" fill="#420044"/>
<rect x="322.78" y="466.00" width="18.08" height="8.05" fill="#3f0048"/>
<rect x="322.78" y="458.00" width="18.08" height="8.05" fill="#400046"/>
<rect x="322.78" y="450.00" width="18.08" height="8.05" fill="#410043"/>
<rect x="322.78" y="442.00" width="18.08" height="8.05" fill="#3e003f"/>
<rect x="322.78" y="434.00" width="18.08" height="8.05" fill="#39003b"/>
<rect x="322.78" y="426.00" width="18.08" height="8.05" fill="#360038"/>
<rect x="322.78" y="418.00" width="18.08" height="8.05" fill="#330034"/>
<rect x="322.78" y="410.00" width="18.08" height="8.05" fill="#300031"/>
<rect x="322.78" y="402.00" width="18.08" height="8.05" fill="#2d002e"/>
<rect x="322.78" y="394.00" width="18.08" height="8.05" fill="#2a002c"/>
<rect x="322.78" y="386.00" width="18.08" height="8.05" fill="#28002a"/>
<rect x="322.78" y="378.00" width="18.08" height="8.05" fill="#270028"/>
<rect x="322.78" y="370.00" width="18.08" height="8.05" fill="#260027"/>
<rect x="322.78" y="354.00" width="18.08" height="16.05" fill="#250026"/>
<rect x="322.78" y="346.00" width="18.08" height="8.05" fill="#240025"/>
<rect x="322.78" y="330.00" width="18.08" height="16.05" fill="#230024"/>
<rect x="322.78" y="322.00" width="18.08" height="8.05" fill="#210022"/>
<rect x="322.78" y="314.00" width="18.08" height="8.05" fill="#200021"/>
<rect x="322.78" y="306.00" width="18.08" height="8.05" fill="#1e001f"/>
<rect x="322.78" y="298.00" width="18.08" height="8.05" fill="#1d001e"/>
<rect x="322.78" y="290.00" width="18.08" height="8.05" fill="#1c001c"/>
<rect x="322.78" y="282.00" width="18.08" height="8.05" fill="#1a001b"/>
<rect x="322.78" y="274.00" width="18.08" height="8.05" fill="#19001a"/>
<rect x="322.78" y="266.00" width="18.08" height="8.05" fill="#170018"/>
<rect x="322.78" y="258.00" width="18.08" height="8.05" fill="#160017"/>
<rect x="322.78" y="170.00" width="18.08" height="88.05" fill="#150015"/>
<rect x="340.81" y="690.00" width="18.08" height="8.05" fill="#020002"/>
<rect x="340.81" y="658.00" width="18.08" height="32.05" fill="#030003"/>
<rect x="340.81" y="650.00" width="18.08" height="8.05" fill="#030004"/>
<rect x="340.81" y="634.00" width="18.08" height="16.05" fill="#040004"/>
<rect x="340.81" y="626.00" width="18.08" height="8.05" fill="#040005"/>
<rect x="340.81" y="618.00" width="18.08" height="8.05" fill="#050005"/>
<rect x="340.81" y="602.00" width="18.08" height="16.05" fill="#060006"/>
<rect x="340.81" y="594.00" width="18.08" height="8.05" fill="#070007"/>
<rect x="340.81" y="586.00" width="18.08" height="8.05" fill="#080008"/>
<rect x="340.81" y="578.00" width="18.08" height="8.05" fill="#09000a"/>
<rect x="340.81" y="570.00" width="18.08" height="8.05" fill="#0b000b"/>
<rect x="340.81" y="562.00" width="18.08" height="8.05" fill="#0d000d"/>
<rect x="340.81" y="554.00" width="18.08" height="8.05" fill="#0f000f"/>
<rect x="340.81" y="546.00" width="18.08" height="8.05" fill="#110011"/>
<rect x="340.81" y="538.00" width="18.08" height="8.05" fill="#140015"/>
<rect x="340.81" y="530.00" width="18.08" height="8.05" fill="#180019"/>
<rect x="340.81" y="522.00" width="18.08" height="8.05" fill="#1c001d"/>
<rect x="340.81" y="514.00" width="18.08" height="8.05" fill="#210022"/>
<rect x="340.81" y="506.00" width="18.08" height="8.05" fill="#270028"/>
<rect x="340.81" y="498.00" width="18.08" height="8.05" fill="#2c002d"/>
<rect x="340.81" y="490.00" width="18.08" height="8.05" fill="#320034"/>
<rect x="340.81" y="482.00" width="18.08" height="8.05" fill="#38003a"/>
<rect x="340.81" y="474.00" width="18.08" height="8.05" fill="#3c003e"/>
<rect x="340.81" y="466.00" width="18.08" height="8.05" fill="#3e003f"/>
<rect x="340.81" y="458.00" width="18.08" height="8.05" fill="#3c003e"/>
<rect x="340.81" y="450.00" width="18.08" height="8.05" fill="#39003b"/>
<rect x="340.81" y="442.00" width="18.08" height="8.05" fill="#3c003e"/>
<rect x="340.81" y="434.00" width="18.08" height="8.05" fill="#39003b"/>
<rect x="340.81" y="426.00" width="18.08" height="8.05" fill="#350037"/>
<rect x="340.81" y="418.00" width="18.08" height="8.05" fill="#320034"/>
<rect x="340.81" y="410.00" width="18.08" height="8.05" fill="#2f0031"/>
<rect x="340.81" y="402.00" width="18.08" height="8.05" fill="#2c002e"/>
<rect x="340.81" y="394.00" width="18.08" height="8.05" fill="#29002b"/>
<rect x="340.81" y="386.00" width="18.08" height="8.05" fill="#270028"/>
<rect x="340.81" y="370.00" width="18.08" height="16.05" fill="#250026"/>
<rect x="340.81" y="354.00" width="18.08" height="16.05" fill="#240025"/>
<rect x="340.81" y="330.00" width="18.08" height="24.05" fill="#230024"/>
<rect x="340.81" y="322.00" width="18.08" height="8.05" fill="#210022"/>
<rect x="340.81" y="314.00" width="18.08" height="8.05" fill="#1f0020"/>
<rect x="340.81" y="306.00" width="18.08" height="8.05" fill="#1d001e"/>
<rect x="340.81" y="298.00" width="18.08" height="8.05" fill="#1b001c"/>
<rect x="340.81" y="290.00" width="18.08" height="8.05" fill="#1a001a"/>
<rect x="340.81" y="282.00" width="18.08" height="8.05" fill="#180019"/>
<rect x="340.81" y="274.00" width="18.08" height="8.05" fill="#160017"/>
<rect x="340.81" y="266.00" width="18.08" height="8.05" fill="#140015"/>
<rect x="340.81" y="258.00" width="18.08" height="8.05" fill="#120013"/>
<rect x="340.81" y="250.00" width="18.08" height="8.05" fill="#110011"/>
<rect x="340.81" y="226.00" width="18.08" height="24.05" fill="#100011"/>
<rect x="340.81" y="210.00" width="18.08" height="16.05" fill="#100010"/>
<rect x="340.81" y="186.00" width="18.08" height="24.05" fill="#0f0010"/>
<rect x="340.81" y="170.00" width="18.08" height="16.05" fill="#0f000f"/>
<rect x="358.83" y="658.00" width="18.08" height="40.05" fill="#020002"/>
<rect x="358.83" y="634.00" width="18.08" height="24.05" fill="#030003"/>
<rect x="358.83" y="618.00" width="18.08" height="16.05" fill="#040004"/>
<rect x="358.83" y="610.00" width="18.08" height="8.05" fill="#050005"/>
<rect x="358.83" y="602.00" width="18.08" height="8.05" fill="#050006"/>
<rect x="358.83" y="594.00" width="18.08" height="8.05" fill="#060006"/>
<rect x="358.83" y="586.00" width="18.08" height="8.05" fill="#070007"/>
<rect x="358.83" y="578.00" width="18.08" height="8.05" fill="#080008"/>
<rect x="358.83" y="570.00" width="18.08" height="8.05" fill="#09000a"/>
<rect x="358.83" y="562.00" width="18.08" height="8.05" fill="#0b000c"/>
<rect x="358.83" y="554.00" width="18.08" height="8.05" fill="#0d000d"/>
<rect x="358.83" y="546.00" width="18.08" height="8.05" fill="#0f0010"/>
<rect x="358.83" y="538.00" width="18.08" height="8.05" fill="#120013"/>
<rect x="358.83" y="530.00" width="18.08" height="8.05" fill="#160016"/>
<rect x="358.83" y="522.00" width="18.08" height="8.05" fill="#19001a"/>
<rect x="358.83" y="514.00" width="18.08" height="8.05" fill="#1e001f"/>
<rect x="358.83" y="506.00" width="18.08" height="8.05" fill="#230024"/>
<rect x="358.83" y="498.00" width="18.08" height="8.05" fill="#270028"/>
<rect x="358.83" y="490.00" width="18.08" height="8.05" fill="#2d002e"/>
<rect x="358.83" y="482.00" width="18.08" height="8.05" fill="#310033"/>
<rect x="358.83" y="474.00" width="18.08" height="8.05" fill="#340036"/>
<rect x="358.83" y="466.00" width="18.08" height="8.05" fill="#360038"/>
<rect x="358.83" y="458.00" width="18.08" height="8.05" fill="#340036"/>
<rect x="358.83" y="450.00" width="18.08" height="8.05" fill="#350037"/>
<rect x="358.83" y="442.00" width="18.08" height="8.05" fill="#360038"/>
<rect x="358.83" y="434.00" width="18.08" height="8.05" fill="#340035"/>
<rect x="358.83" y="426.00" width="18.08" height="8.05" fill="#310033"/>
<rect x="358.83" y="418.00" width="18.08" height="8.05" fill="#2e0030"/>
<rect x="358.83" y="410.00" width="18.08" height="8.05" fill="#2b002c"/>
<rect x="358.83" y="402.00" width="18.08" height="8.05" fill="#280029"/>
<rect x="358.83" y="394.00" width="18.08" height="8.05" fill="#250026"/>
<rect x="358.83" y="386.00" width="18.08" height="8.05" fill="#230024"/>
<rect x="358.83" y="378.00" width="18.08" height="8.05" fill="#210022"/>
<rect x="358.83" y="362.00" width="18.08" height="16.05" fill="#200021"/>
<rect x="358.83" y="338.00" width="18.08" height="24.05" fill="#1f0020"/>
<rect x="358.83" y="330.00" width="18.08" height="8.05" fill="#1e001f"/>
<rect x="358.83" y="322.00" width="18.08" height="8.05" fill="#1d001e"/>
<rect x="358.83" y="314.00" width="18.08" height="8.05" fill="#1b001c"/>
<rect x="358.83" y="306.00" width="18.08" height="8.05" fill="#1a001a"/>
<rect x="358.83" y="298.00" width="18.08" height="8.05" fill="#180019"/>
<rect x="358.83" y="290.00" width="18.08" height="8.05" fill="#160017"/>
<rect x="358.83" y="282.00" width="18.08" height="8.05" fill="#150016"/>
<rect x="358.83" y="274.00" width="18.08" height="8.05" fill="#130014"/>
<rect x="358.83" y="266.00" width="18.08" height="8.05" fill="#120012"/>
<rect x="358.83" y="258.00" width="18.08" height="8.05" fill="#100011"/>
<rect x="358.83" y="250.00" width="18.08" height="8.05" fill="#0f000f"/>
<rect x="358.83" y="226.00" width="18.08" height="24.05" fill="#0e000f"/>
<rect x="358.83" y="202.00" width="18.08" height="24.05" fill="#0e000e"/>
<rect x="358.83" y="186.00" width="18.08" height="16.05" fill="#0d000e"/>
<rect x="358.83" y="170.00" width="18.08" height="16.05" fill="#0d000d"/>
<rect x="376.86" y="658.00" width="18.08" height="40.05" fill="#020002"/>
<rect x="376.86" y="634.00" width="18.08" height="24.05" fill="#030003"/>
<rect x="376.86" y="626.00" width="18.08" height="8.05" fill="#030004"/>
<rect x="376.86" y="610.00" width="18.08" height="16.05" fill="#040004"/>
<rect x="376.86" y="602.00" width="18.08" height="8.05" fill="#050005"/>
<rect x="376.86" y="594.00" width="18.08" height="8.05" fill="#050006"/>
<rect x="376.86" y="586.00" width="18.08" height="8.05" fill="#060006"/>
<rect x="376.86" y="578.00" width="18.08" height="8.05" fill="#070008"/>
<rect x="376.86" y="570.00" width="18.08" height="8.05" fill="#080009"/>
<rect x="376.86" y="562.00" width="18.08" height="8.05" fill="#0a000a"/>
<rect x="376.86" y="554.00" width="18.08" height="8.05" fill="#0c000c"/>
<rect x="376.86" y="546.00" width="18.08" height="8.05" fill="#0e000e"/>
<rect x="376.86" y="538.00" width="18.08" height="8.05" fill="#100011"/>
<rect x="376.86" y="530.00" width="18.08" height="8.05" fill="#130014"/>
<rect x="376.86" y="522.00" width="18.08" height="8.05" fill="#160017"/>
<rect x="376.86" y="514.00" width="18.08" height="8.05" fill="#1a001b"/>
<rect x="376.86" y="506.00" width="18.08" height="8.05" fill="#1e001f"/>
<rect x="376.86" y="498.00" width="18.08" height="8.05" fill="#230024"/>
<rect x="376.86" y="490.00" width="18.08" height="8.05" fill="#270028"/>
<rect x="376.86" y="482.00" width="18.08" height="8.05" fill="#2a002c"/>
<rect x="376.86" y="474.00" width="18.08" height="8.05" fill="#2d002f"/>
<rect x="376.86" y="466.00" width="18.08" height="8.05" fill="#2e0030"/>
<rect x="376.86" y="458.00" width="18.08" height="8.05" fill="#2d002f"/>
<rect x="376.86" y="450.00" width="18.08" height="8.05" fill="#2e0030"/>
<rect x="376.86" y="442.00" width="18.08" height="8.05" fill="#2f0031"/>
<rect x="376.86" y="434.00" width="18.08" height="8.05" fill="#2d002f"/>
<rect x="376.86" y="426.00" width="18.08" height="8.05" fill="#2b002c"/>
<rect x="376.86" y="418.00" width="18.08" height="8.05" fill="#29002a"/>
<rect x="376.86" y="410.00" width="18.08" height="8.05" fill="#260027"/>
<rect x="376.86" y="402.00" width="18.08" height="8.05" fill="#230024"/>
<rect x="376.86" y="394.00" width="18.08" height="8.05" fill="#210022"/>
<rect x="376.86" y="386.00" width="18.08" height="8.05" fill="#1f0020"/>
<rect x="376.86" y="370.00" width="18.08" height="16.05" fill="#1c001d"/>
<rect x="376.86" y="362.00" width="18.08" height="8.05" fill="#1c001c"/>
<rect x="376.86" y="346.00" width="18.08" height="16.05" fill="#1b001c"/>
<rect x="376.86" y="330.00" width="18.08" height="16.05" fill="#1a001b"/>
<rect x="376.86" y="322.00" width="18.08" height="8.05" fill="#180019"/>
<rect x="376.86" y="314.00" width="18.08" height="8.05" fill="#170018"/>
<rect x="376.86" y="306.00" width="18.08" height="8.05" fill="#160016"/>
<rect x="376.86" y="298.00" width="18.08" height="8.05" fill="#140015"/>
<rect x="376.86" y="290.00" width="18.08" height="8.05" fill="#130014"/>
<rect x="376.86" y="282.00" width="18.08" height="8.05" fill="#120012"/>
<rect x="376.86" y="274.00" width="18.08" height="8.05" fill="#100011"/>
<rect x="376.86" y="266.00" width="18.08" height="8.05" fill="#0f000f"/>
<rect x="376.86" y="258.00" width="18.08" height="8.05" fill="#0d000e"/>
<rect x="376.86" y="218.00" width="18.08" height="40.05" fill="#0c000c"/>
<rect x="376.86" y="202.00" width="18.08" height="16.05" fill="#0b000c"/>
<rect x="376.86" y="170.00" width="18.08" height="32.05" fill="#0b000b"/>
<rect x="394.89" y="666.00" width="18.08" height="32.05" fill="#010001"/>
<rect x="394.89" y="634.00" width="18.08" height="32.05" fill="#020002"/>
<rect x="394.89" y="618.00" width="18.08" height="16.05" fill="#030003"/>
<rect x="394.89" y="610.00" width="18.08" height="8.05" fill="#030004"/>
<rect x="394.89" y="602.00" width="18.08" height="8.05" fill="#040004"/>
<rect x="394.89" y="594.00" width="18.08" height="8.05" fill="#050005"/>
<rect x="394.89" y="586.00" width="18.08" height="8.05" fill="#050006"/>
<rect x="394.89" y="578.00" width="18.08" height="8.05" fill="#060006"/>
<rect x="394.89" y="570.00" width="18.08" height="8.05" fill="#070007"/>
<rect x="394.89" y="562.00" width="18.08" height="8.05" fill="#080009"/>
<rect x="394.89" y="554.00" width="18.08" height="8.05" fill="#0a000a"/>
<rect x="394.89" y="546.00" width="18.08" height="8.05" fill="#0c000c"/>
<rect x="394.89" y="538.00" width="18.08" height="8.05" fill="#0e000e"/>
<rect x="394.89" y="530.00" width="18.08" height="8.05" fill="#100011"/>
<rect x="394.89" y="522.00" width="18.08" height="8.05" fill="#130014"/>
<rect x="394.89" y="514.00" width="18.08" height="8.05" fill="#160017"/>
<rect x="394.89" y="506.00" width="18.08" height="8.05" fill="#19001a"/>
<rect x="394.89" y="498.00" width="18.08" height="8.05" fill="#1d001e"/>
<rect x="394.89" y="490.00" width="18.08" height="8.05" fill="#200021"/>
<rect x="394.89" y="482.00" width="18.08" height="8.05" fill="#230024"/>
<rect x="394.89" y="474.00" width="18.08" height="8.05" fill="#260027"/>
<rect x="394.89" y="458.00" width="18.08" height="16.05" fill="#270028"/>
<rect x="394.89" y="450.00" width="18.08" height="8.05" fill="#280029"/>
<rect x="394.89" y="442.00" width="18.08" height="8.05" fill="#29002a"/>
<rect x="394.89" y="434.00" width="18.08" height="8.05" fill="#260028"/>
<rect x="394.89" y="426.00" width="18.08" height="8.05" fill="#240025"/>
<rect x="394.89" y="418.00" width="18.08" height="8.05" fill="#220023"/>
<rect x="394.89" y="410.00" width="18.08" height="8.05" fill="#200021"/>
<rect x="394.89" y="402.00" width="18.08" height="8.05" fill="#1e001f"/>
<rect x="394.89" y="394.00" width="18.08" height="8.05" fill="#1c001c"/>
<rect x="394.89" y="386.00" width="18.08" height="8.05" fill="#1a001b"/>
<rect x="394.89" y="378.00" width="18.08" height="8.05" fill="#180019"/>
<rect x="394.89" y="370.00" width="18.08" height="8.05" fill="#180018"/>
<rect x="394.89" y="354.00" width="18.08" height="16.05" fill="#170018"/>
<rect x="394.89" y="338.00" width="18.08" height="16.05" fill="#160017"/>
<rect x="394.89" y="330.00" width="18.08" height="8.05" fill="#160016"/>
<rect x="394.89" y="322.00" width="18.08" height="8.05" fill="#140015"/>
<rect x="394.89" y="314.00" width="18.08" height="8.05" fill="#130014"/>
<rect x="394.89" y="306.00" width="18.08" height="8.05" fill="#120013"/>
<rect x="394.89" y="298.00" width="18.08" height="8.05" fill="#110012"/>
<rect x="394.89" y="290.00" width="18.08" height="8.05" fill="#100010"/>
<rect x="394.89" y="282.00" width="18.08" height="8.05" fill="#0f000f"/>
<rect x="394.89" y="274.00" width="18.08" height="8.05" fill="#0e000e"/>
<rect x="394.89" y="266.00" width="18.08" height="8.05" fill="#0d000d"/>
<rect x="394.89" y="258.00" width="18.08" height="8.05" fill="#0b000c"/>
<rect x="394.89" y="242.00" width="18.08" height="16.05" fill="#0a000b"/>
<rect x="394.89" y="202.00" width="18.08" height="40.05" fill="#0a000a"/>
<rect x="394.89" y="170.00" width="18.08" height="32.05" fill="#09000a"/>
<rect x="412.92" y="666.00" width="18.08" height="32.05" fill="#010001"/>
<rect x="412.92" y="634.00" width="18.08" height="32.05" fill="#020002"/>
<rect x="412.92" y="626.00" width="18.08" height="8.05" fill="#020003"/>
<rect x="412.92" y="602.00" width="18.08" height="24.05" fill="#030003"/>
<rect x="412.92" y="586.00" width="18.08" height="16.05" fill="#040004"/>
<rect x="412.92" y="578.00" width="18.08" height="8.05" fill="#050005"/>
<rect x="412.92" y="570.00" width="18.08" height="8.05" fill="#050006"/>
<rect x="412.92" y="562.00" width="18.08" height="8.05" fill="#070007"/>
<rect x="412.92" y="554.00" width="18.08" height="8.05" fill="#080008"/>
<rect x="412.92" y="546.00" width="18.08" height="8.05" fill="#0a000a"/>
<rect x="412.92" y="538.00" width="18.08" height="8.05" fill="#0c000c"/>
<rect x="412.92" y="530.00" width="18.08" height="8.05" fill="#0d000e"/>
<rect x="412.92" y="522.00" width="18.08" height="8.05" fill="#0f0010"/>
<rect x="412.92" y="514.00" width="18.08" height="8.05" fill="#120013"/>
<rect x="412.92" y="506.00" width="18.08" height="8.05" fill="#150015"/>
<rect x="412.92" y="498.00" width="18.08" height="8.05" fill="#170018"/>
<rect x="412.92" y="490.00" width="18.08" height="8.05" fill="#1a001b"/>
<rect x="412.92" y="482.00" width="18.08" height="8.05" fill="#1c001d"/>
<rect x="412.92" y="474.00" width="18.08" height="8.05" fill="#1f0020"/>
<rect x="412.92" y="450.00" width="18.08" height="24.05" fill="#200021"/>
<rect x="412.92" y="442.00" width="18.08" height="8.05" fill="#210022"/>
<rect x="412.92" y="434.00" width="18.08" height="8.05" fill="#1f0020"/>
<rect x="412.92" y="426.00" width="18.08" height="8.05" fill="#1d001e"/>
<rect x="412.92" y="418.00" width="18.08" height="8.05" fill="#1c001c"/>
<rect x="412.92" y="410.00" width="18.08" height="8.05" fill="#1a001b"/>
<rect x="412.92" y="402.00" width="18.08" height="8.05" fill="#180019"/>
<rect x="412.92" y="394.00" width="18.08" height="8.05" fill="#170018"/>
<rect x="412.92" y="386.00" width="18.08" height="8.05" fill="#150016"/>
<rect x="412.92" y="370.00" width="18.08" height="16.05" fill="#140014"/>
<rect x="412.92" y="354.00" width="18.08" height="16.05" fill="#130014"/>
<rect x="412.92" y="346.00" width="18.08" height="8.05" fill="#130013"/>
<rect x="412.92" y="330.00" width="18.08" height="16.05" fill="#120013"/>
<rect x="412.92" y="322.00" width="18.08" height="8.05" fill="#110012"/>
<rect x="412.92" y="314.00" width="18.08" height="8.05" fill="#100011"/>
<rect x="412.92" y="306.00" width="18.08" height="8.05" fill="#0f0010"/>
<rect x="412.92" y="298.00" width="18.08" height="8.05" fill="#0e000f"/>
<rect x="412.92" y="290.00" width="18.08" height="8.05" fill="#0d000e"/>
<rect x="412.92" y="282.00" width="18.08" height="8.05" fill="#0c000d"/>
<rect x="412.92" y="274.00" width="18.08" height="8.05" fill="#0b000c"/>
<rect x="412.92" y="266.00" width="18.08" height="8.05" fill="#0b000b"/>
<rect x="412.92" y="258.00" width="18.08" height="8.05" fill="#0a000a"/>
<rect x="412.92" y="242.00" width="18.08" height="16.05" fill="#090009"/>
<rect x="412.92" y="226.00" width="18.08" height="16.05" fill="#080009"/>
<rect x="412.92" y="170.00" width="18.08" height="56.05" fill="#080008"/>
<rect x="430.94" y="658.00" width="18.08" height="40.05" fill="#010001"/>
<rect x="430.94" y="650.00" width="18.08" height="8.05" fill="#010002"/>
<rect x="430.94" y="602.00" width="18.08" height="48.05" fill="#020002"/>
<rect x="430.94" y="594.00" width="18.08" height="8.05" fill="#030003"/>
<rect x="430.94" y="586.00" width="18.08" height="8.05" fill="#030004"/>
<rect x="430.94" y="578.00" width="18.08" height="8.05" fill="#040004"/>
<rect x="430.94" y="570.00" width="18.08" height="8.05" fill="#050005"/>
<rect x="430.94" y="562.00" width="18.08" height="8.05" fill="#050006"/>
<rect x="430.94" y="554.00" width="18.08" height="8.05" fill="#060006"/>
<rect x="430.94" y="546.00" width="18.08" height="8.05" fill="#080008"/>
<rect x="430.94" y="538.00" width="18.08" height="8.05" fill="#09000a"/>
<rect x="430.94" y="530.00" width="18.08" height="8.05" fill="#0b000b"/>
<rect x="430.94" y="522.00" width="18.08" height="8.05" fill="#0c000d"/>
<rect x="430.94" y="514.00" width="18.08" height="8.05" fill="#0f000f"/>
<rect x="430.94" y="506.00" width="18.08" height="8.05" fill="#110011"/>
<rect x="430.94" y="498.00" width="18.08" height="8.05" fill="#130014"/>
<rect x="430.94" y="490.00" width="18.08" height="8.05" fill="#160016"/>
<rect x="430.94" y="482.00" width="18.08" height="8.05" fill="#170018"/>
<rect x="430.94" y="474.00" width="18.08" height="8.05" fill="#190019"/>
<rect x="430.94" y="458.00" width="18.08" height="16.05" fill="#19001a"/>
<rect x="430.94" y="450.00" width="18.08" height="8.05" fill="#1a001b"/>
<rect x="430.94" y="442.00" width="18.08" height="8.05" fill="#1b001c"/>
<rect x="430.94" y="434.00" width="18.08" height="8.05" fill="#19001a"/>
<rect x="430.94" y="426.00" width="18.08" height="8.05" fill="#180019"/>
<rect x="430.94" y="418.00" width="18.08" height="8.05" fill="#170018"/>
<rect x="430.94" y="410.00" width="18.08" height="8.05" fill="#160016"/>
<rect x="430.94" y="402.00" width="18.08" height="8.05" fill="#140015"/>
<rect x="430.94" y="394.00" width="18.08" height="8.05" fill="#130014"/>
<rect x="430.94" y="386.00" width="18.08" height="8.05" fill="#120013"/>
<rect x="430.94" y="378.00" width="18.08" height="8.05" fill="#110012"/>
<rect x="430.94" y="362.00" width="18.08" height="16.05" fill="#110011"/>
<rect x="430.94" y="346.00" width="18.08" height="16.05" fill="#100011"/>
<rect x="430.94" y="330.00" width="18.08" height="16.05" fill="#100010"/>
<rect x="430.94" y="322.00" width="18.08" height="8.05" fill="#0f000f"/>
<rect x="430.94" y="314.00" width="18.08" height="8.05" fill="#0e000e"/>
<rect x="430.94" y="306.00" width="18.08" height="8.05" fill="#0d000e"/>
<rect x="430.94" y="298.00" width="18.08" height="8.05" fill="#0c000d"/>
<rect x="430.94" y="290.00" width="18.08" height="8.05" fill="#0c000c"/>
<rect x="430.94" y="282.00" width="18.08" height="8.05" fill="#0b000b"/>
<rect x="430.94" y="274.00" width="18.08" height="8.05" fill="#0a000a"/>
<rect x="430.94" y="266.00" width="18.08" height="8.05" fill="#09000a"/>
<rect x="430.94" y="258.00" width="18.08" height="8.05" fill="#090009"/>
<rect x="430.94" y="234.00" width="18.08" height="24.05" fill="#080008"/>
<rect x="430.94" y="210.00" width="18.08" height="24.05" fill="#070008"/>
<rect x="430.94" y="170.00" width="18.08" height="40.05" fill="#070007"/>
<rect x="448.97" y="658.00" width="18.08" height="40.05" fill="#010001"/>
<rect x="448.97" y="650.00" width="18.08" height="8.05" fill="#010002"/>
<rect x="448.97" y="602.00" width="18.08" height="48.05" fill="#020002"/>
<rect x="448.97" y="586.00" width="18.08" height="16.05" fill="#030003"/>
<rect x="448.97" y="578.00" width="18.08" height="8.05" fill="#030004"/>
<rect x="448.97" y="570.00" width="18.08" height="8.05" fill="#040004"/>
<rect x="448.97" y="562.00" width="18.08" height="8.05" fill="#050005"/>
<rect x="448.97" y="554.00" width="18.08" height="8.05" fill="#050006"/>
<rect x="448.97" y="546.00" width="18.08" height="8.05" fill="#060006"/>
<rect x="448.97" y="538.00" width="18.08" height="8.05" fill="#070007"/>
<rect x="448.97" y="530.00" width="18.08" height="8.05" fill="#080009"/>
<rect x="448.97" y="522.00" width="18.08" height="8.05" fill="#0a000a"/>
<rect x="448.97" y="514.00" width="18.08" height="8.05" fill="#0c000c"/>
<rect x="448.97" y="506.00" width="18.08" height="8.05" fill="#0d000d"/>
<rect x="448.97" y="498.00" width="18.08" height="8.05" fill="#0f000f"/>
<rect x="448.97" y="490.00" width="18.08" height="8.05" fill="#110011"/>
<rect x="448.97" y="482.00" width="18.08" height="8.05" fill="#120013"/>
<rect x="448.97" y="474.00" width="18.08" height="8.05" fill="#130014"/>
<rect x="448.97" y="458.00" width="18.08" height="16.05" fill="#140015"/>
<rect x="448.97" y="450.00" width="18.08" height="8.05" fill="#140014"/>
<rect x="448.97" y="442.00" width="18.08" height="8.05" fill="#130014"/>
<rect x="448.97" y="434.00" width="18.08" height="8.05" fill="#120013"/>
<rect x="448.97" y="426.00" width="18.08" height="8.05" fill="#120012"/>
<rect x="448.97" y="418.00" width="18.08" height="8.05" fill="#110011"/>
<rect x="448.97" y="410.00" width="18.08" height="8.05" fill="#100011"/>
<rect x="448.97" y="402.00" width="18.08" height="8.05" fill="#100010"/>
<rect x="448.97" y="394.00" width="18.08" height="8.05" fill="#0f000f"/>
<rect x="448.97" y="386.00" width="18.08" height="8.05" fill="#0e000f"/>
<rect x="448.97" y="370.00" width="18.08" height="16.05" fill="#0e000e"/>
<rect x="448.97" y="362.00" width="18.08" height="8.05" fill="#0d000e"/>
<rect x="448.97" y="338.00" width="18.08" height="24.05" fill="#0d000d"/>
<rect x="448.97" y="330.00" width="18.08" height="8.05" fill="#0c000d"/>
<rect x="448.97" y="314.00" width="18.08" height="16.05" fill="#0c000c"/>
<rect x="448.97" y="306.00" width="18.08" height="8.05" fill="#0b000c"/>
<rect x="448.97" y="298.00" width="18.08" height="8.05" fill="#0b000b"/>
<rect x="448.97" y="290.00" width="18.08" height="8.05" fill="#0a000b"/>
<rect x="448.97" y="274.00" width="18.08" height="16.05" fill="#0a000a"/>
<rect x="448.97" y="266.00" width="18.08" height="8.05" fill="#09000a"/>
<rect x="448.97" y="258.00" width="18.08" height="8.05" fill="#090009"/>
<rect x="448.97" y="170.00" width="18.08" height="88.05" fill="#080009"/>
<rect x="467.00" y="674.00" width="18.08" height="24.05" fill="#010001"/>
<rect x="467.00" y="666.00" width="18.08" height="8.05" fill="#010002"/>
<rect x="467.00" y="634.00" width="18.08" height="32.05" fill="#020002"/>
<rect x="467.00" y="602.00" width="18.08" height="32.05" fill="#030003"/>
<rect x="467.00" y="594.00" width="18.08" height="8.05" fill="#040004"/>
<rect x="467.00" y="586.00" width="18.08" height="8.05" fill="#050005"/>
<rect x="467.00" y="578.00" width="18.08" height="8.05" fill="#060006"/>
<rect x="467.00" y="570.00" width="18.08" height="8.05" fill="#060007"/>
<rect x="467.00" y="562.00" width="18.08" height="8.05" fill="#080008"/>
<rect x="467.00" y="554.00" width="18.08" height="8.05" fill="#090009"/>
<rect x="467.00" y="546.00" width="18.08" height="8.05" fill="#0a000a"/>
<rect x="467.00" y="538.00" width="18.08" height="8.05" fill="#0b000b"/>
<rect x="467.00" y="530.00" width="18.08" height="8.05" fill="#0c000c"/>
<rect x="467.00" y="522.00" width="18.08" height="8.05" fill="#0d000e"/>
<rect x="467.00" y="514.00" width="18.08" height="8.05" fill="#0e000f"/>
<rect x="467.00" y="506.00" width="18.08" height="8.05" fill="#0f0010"/>
<rect x="467.00" y="498.00" width="18.08" height="8.05" fill="#110011"/>
<rect x="467.00" y="490.00" width="18.08" height="8.05" fill="#120012"/>
<rect x="467.00" y="482.00" width="18.08" height="8.05" fill="#130013"/>
<rect x="467.00" y="474.00" width="18.08" height="8.05" fill="#140014"/>
<rect x="467.00" y="466.00" width="18.08" height="8.05" fill="#150015"/>
<rect x="467.00" y="458.00" width="18.08" height="8.05" fill="#160016"/>
<rect x="467.00" y="450.00" width="18.08" height="8.05" fill="#170017"/>
<rect x="467.00" y="442.00" width="18.08" height="8.05" fill="#170018"/>
<rect x="467.00" y="434.00" width="18.08" height="8.05" fill="#180018"/>
<rect x="467.00" y="426.00" width="18.08" height="8.05" fill="#180019"/>
<rect x="467.00" y="418.00" width="18.08" height="8.05" fill="#190019"/>
<rect x="467.00" y="410.00" width="18.08" height="8.05" fill="#19001a"/>
<rect x="467.00" y="402.00" width="18.08" height="8.05" fill="#1a001a"/>
<rect x="467.00" y="394.00" width="18.08" height="8.05" fill="#1a001b"/>
<rect x="467.00" y="378.00" width="18.08" height="16.05" fill="#1b001b"/>
<rect x="467.00" y="274.00" width="18.08" height="104.05" fill="#1b001c"/>
<rect x="467.00" y="250.00" width="18.08" height="24.05" fill="#1c001c"/>
<rect x="467.00" y="178.00" width="18.08" height="72.05" fill="#1c001d"/>
<rect x="467.00" y="170.00" width="18.08" height="8.05" fill="#0c000c"/>
<rect x="485.03" y="722.00" width="18.08" height="16.05" fill="#130013"/>
<rect x="485.03" y="714.00" width="18.08" height="8.05" fill="#130014"/>
<rect x="485.03" y="706.00" width="18.08" height="8.05" fill="#140014"/>
<rect x="485.03" y="690.00" width="18.08" height="16.05" fill="#140015"/>
<rect x="485.03" y="682.00" width="18.08" height="8.05" fill="#150015"/>
<rect x="485.03" y="666.00" width="18.08" height="16.05" fill="#150016"/>
<rect x="485.03" y="658.00" width="18.08" height="8.05" fill="#160016"/>
<rect x="485.03" y="642.00" width="18.08" height="16.05" fill="#160017"/>
<rect x="485.03" y="634.00" width="18.08" height="8.05" fill="#170017"/>
<rect x="485.03" y="618.00" width="18.08" height="16.05" fill="#170018"/>
<rect x="485.03" y="602.00" width="18.08" height="16.05" fill="#180019"/>
<rect x="485.03" y="594.00" width="18.08" height="8.05" fill="#190019"/>
<rect x="485.03" y="586.00" width="18.08" height="8.05" fill="#19001a"/>
<rect x="485.03" y="578.00" width="18.08" height="8.05" fill="#1a001a"/>
<rect x="485.03" y="562.00" width="18.08" height="16.05" fill="#1a001b"/>
<rect x="485.03" y="546.00" width="18.08" height="16.05" fill="#1b001c"/>
<rect x="485.03" y="530.00" width="18.08" height="16.05" fill="#1c001d"/>
<rect x="485.03" y="514.00" width="18.08" height="16.05" fill="#1d001e"/>
<rect x="485.03" y="498.00" width="18.08" height="16.05" fill="#1e001f"/>
<rect x="485.03" y="466.00" width="18.08" height="32.05" fill="#1f0020"/>
<rect x="485.03" y="434.00" width="18.08" height="32.05" fill="#200021"/>
<rect x="485.03" y="402.00" width="18.08" height="32.05" fill="#210022"/>
<rect x="485.03" y="370.00" width="18.08" height="32.05" fill="#220023"/>
<rect x="485.03" y="346.00" width="18.08" height="24.05" fill="#230024"/>
<rect x="485.03" y="338.00" width="18.08" height="8.05" fill="#230025"/>
<rect x="485.03" y="314.00" width="18.08" height="24.05" fill="#240025"/>
<rect x="485.03" y="282.00" width="18.08" height="32.05" fill="#250026"/>
<rect x="485.03" y="258.00" width="18.08" height="24.05" fill="#260027"/>
<rect x="485.03" y="250.00" width="18.08" height="8.05" fill="#260028"/>
<rect x="485.03" y="226.00" width="18.08" height="24.05" fill="#270028"/>
<rect x="485.03" y="218.00" width="18.08" height="8.05" fill="#270029"/>
<rect x="485.03" y="202.00" width="18.08" height="16.05" fill="#280029"/>
<rect x="485.03" y="194.00" width="18.08" height="8.05" fill="#28002a"/>
<rect x="485.03" y="170.00" width="18.08" height="24.05" fill="#0c000c"/>
<rect x="503.06" y="730.00" width="18.08" height="24.05" fill="#230024"/>
<rect x="503.06" y="706.00" width="18.08" height="24.05" fill="#240025"/>
<rect x="503.06" y="682.00" width="18.08" height="24.05" fill="#250026"/>
<rect x="503.06" y="674.00" width="18.08" height="8.05" fill="#250027"/>
<rect x="503.06" y="658.00" width="18.08" height="16.05" fill="#260027"/>
<rect x="503.06" y="650.00" width="18.08" height="8.05" fill="#260028"/>
<rect x="503.06" y="634.00" width="18.08" height="16.05" fill="#270028"/>
<rect x="503.06" y="626.00" width="18.08" height="8.05" fill="#270029"/>
<rect x="503.06" y="610.00" width="18.08" height="16.05" fill="#280029"/>
<rect x="503.06" y="602.00" width="18.08" height="8.05" fill="#28002a"/>
<rect x="503.06" y="578.00" width="18.08" height="24.05" fill="#29002a"/>
<rect x="503.06" y="570.00" width="18.08" height="8.05" fill="#29002b"/>
<rect x="503.06" y="554.00" width="18.08" height="16.05" fill="#2a002b"/>
<rect x="503.06" y="546.00" width="18.08" height="8.05" fill="#2a002c"/>
<rect x="503.06" y="522.00" width="18.08" height="24.05" fill="#2b002c"/>
<rect x="503.06" y="514.00" width="18.08" height="8.05" fill="#2b002d"/>
<rect x="503.06" y="498.00" width="18.08" height="16.05" fill="#2c002d"/>
<rect x="503.06" y="482.00" width="18.08" height="16.05" fill="#2c002e"/>
<rect x="503.06" y="442.00" width="18.08" height="40.05" fill="#2d002e"/>
<rect x="503.06" y="418.00" width="18.08" height="24.05" fill="#2d002f"/>
<rect x="503.06" y="378.00" width="18.08" height="40.05" fill="#2e002f"/>
<rect x="503.06" y="346.00" width="18.08" height="32.05" fill="#2e0030"/>
<rect x="503.06" y="306.00" width="18.08" height="40.05" fill="#2f0030"/>
<rect x="503.06" y="266.00" width="18.08" height="40.05" fill="#2f0031"/>
<rect x="503.06" y="226.00" width="18.08" height="40.05" fill="#300031"/>
<rect x="503.06" y="202.00" width="18.08" height="24.05" fill="#300032"/>
<rect x="503.06" y="170.00" width="18.08" height="32.05" fill="#0c000c"/>
<rect x="521.08" y="762.00" width="18.08" height="8.05" fill="#330034"/>
<rect x="521.08" y="738.00" width="18.08" height="24.05" fill="#330035"/>
<rect x="521.08" y="730.00" width="18.08" height="8.05" fill="#340035"/>
<rect x="521.08" y="706.00" width="18.08" height="24.05" fill="#340036"/>
<rect x="521.08" y="698.00" width="18.08" height="8.05" fill="#350036"/>
<rect x="521.08" y="674.00" width="18.08" height="24.05" fill="#350037"/>
<rect x="521.08" y="666.00" width="18.08" height="8.05" fill="#360037"/>
<rect x="521.08" y="642.00" width="18.08" height="24.05" fill="#360038"/>
<rect x="521.08" y="634.00" width="18.08" height="8.05" fill="#370038"/>
<rect x="521.08" y="610.00" width="18.08" height="24.05" fill="#370039"/>
<rect x="521.08" y="602.00" width="18.08" height="8.05" fill="#380039"/>
<rect x="521.08" y="578.00" width="18.08" height="24.05" fill="#38003a"/>
<rect x="521.08" y="570.00" width="18.08" height="8.05" fill="#39003a"/>
<rect x="521.08" y="546.00" width="18.08" height="24.05" fill="#39003b"/>
<rect x="521.08" y="538.00" width="18.08" height="8.05" fill="#3a003b"/>
<rect x="521.08" y="506.00" width="18.08" height="32.05" fill="#3a003c"/>
<rect x="521.08" y="498.00" width="18.08" height="8.05" fill="#3b003c"/>
<rect x="521.08" y="218.00" width="18.08" height="280.05" fill="#3b003d"/>
<rect x="521.08" y="170.00" width="18.08" height="48.05" fill="#0c000c"/>
<rect x="539.11" y="778.00" width="18.08" height="8.05" fill="#3c003e"/>
<rect x="539.11" y="770.00" width="18.08" height="8.05" fill="#3d003e"/>
<rect x="539.11" y="762.00" width="18.08" height="8.05" fill="#3d003f"/>
<rect x="539.11" y="754.00" width="18.08" height="8.05" fill="#3e003f"/>
<rect x="539.11" y="746.00" width="18.08" height="8.05" fill="#3e0040"/>
<rect x="539.11" y="738.00" width="18.08" height="8.05" fill="#3f0040"/>
<rect x="539.11" y="730.00" width="18.08" height="8.05" fill="#3f0041"/>
<rect x="539.11" y="722.00" width="18.08" height="8.05" fill="#400041"/>
<rect x="539.11" y="714.00" width="18.08" height="8.05" fill="#400042"/>
<rect x="539.11" y="706.00" width="18.08" height="8.05" fill="#410042"/>
<rect x="539.11" y="698.00" width="18.08" height="8.05" fill="#410043"/>
<rect x="539.11" y="682.00" width="18.08" height="16.05" fill="#420044"/>
<rect x="539.11" y="666.00" width="18.08" height="16.05" fill="#410045"/>
<rect x="539.11" y="658.00" width="18.08" height="8.05" fill="#3f0047"/>
<rect x="539.11" y="650.00" width="18.08" height="8.05" fill="#3e0048"/>
<rect x="539.11" y="642.00" width="18.08" height="8.05" fill="#3c004a"/>
<rect x="539.11" y="634.00" width="18.08" height="8.05" fill="#3b004c"/>
<rect x="539.11" y="626.00" width="18.08" height="8.05" fill="#39004e"/>
<rect x="539.11" y="618.00" width="18.08" height="8.05" fill="#370050"/>
<rect x="539.11" y="610.00" width="18.08" height="8.05" fill="#350052"/>
<rect x="539.11" y="602.00" width="18.08" height="8.05" fill="#330054"/>
<rect x="539.11" y="594.00" width="18.08" height="8.05" fill="#310056"/>
<rect x="539.11" y="586.00" width="18.08" height="8.05" fill="#2f0058"/>
<rect x="539.11" y="578.00" width="18.08" height="8.05" fill="#2d005a"/>
<rect x="539.11" y="570.00" width="18.08" height="8.05" fill="#2b005c"/>
<rect x="539.11" y="562.00" width="18.08" height="8.05" fill="#2a005e"/>
<rect x="539.11" y="554.00" width="18.08" height="8.05" fill="#29005f"/>
<rect x="539.11" y="546.00" width="18.08" height="8.05" fill="#280060"/>
<rect x="539.11" y="538.00" width="18.08" height="8.05" fill="#270062"/>
<rect x="539.11" y="530.00" width="18.08" height="8.05" fill="#250063"/>
<rect x="539.11" y="522.00" width="18.08" height="8.05" fill="#260062"/>
<rect x="539.11" y="514.00" width="18.08" height="8.05" fill="#270061"/>
<rect x="539.11" y="506.00" width="18.08" height="8.05" fill="#280060"/>
<rect x="539.11" y="498.00" width="18.08" height="8.05" fill="#29005f"/>
<rect x="539.11" y="490.00" width="18.08" height="8.05" fill="#2a005e"/>
<rect x="539.11" y="482.00" width="18.08" height="8.05" fill="#2c005c"/>
<rect x="539.11" y="474.00" width="18.08" height="8.05" fill="#2d005a"/>
<rect x="539.11" y="466.00" width="18.08" height="8.05" fill="#2f0058"/>
<rect x="539.11" y="458.00" width="18.08" height="8.05" fill="#310057"/>
<rect x="539.11" y="450.00" width="18.08" height="8.05" fill="#320055"/>
<rect x="539.11" y="442.00" width="18.08" height="8.05" fill="#310056"/>
<rect x="539.11" y="434.00" width="18.08" height="8.05" fill="#2f0058"/>
<rect x="539.11" y="426.00" width="18.08" height="8.05" fill="#300057"/>
<rect x="539.11" y="418.00" width="18.08" height="8.05" fill="#310057"/>
<rect x="539.11" y="410.00" width="18.08" height="8.05" fill="#310056"/>
<rect x="539.11" y="394.00" width="18.08" height="16.05" fill="#320055"/>
<rect x="539.11" y="386.00" width="18.08" height="8.05" fill="#330054"/>
<rect x="539.11" y="370.00" width="18.08" height="16.05" fill="#340053"/>
<rect x="539.11" y="354.00" width="18.08" height="16.05" fill="#350052"/>
<rect x="539.11" y="346.00" width="18.08" height="8.05" fill="#360051"/>
<rect x="539.11" y="330.00" width="18.08" height="16.05" fill="#370050"/>
<rect x="539.11" y="322.00" width="18.08" height="8.05" fill="#38004f"/>
<rect x="539.11" y="314.00" width="18.08" height="8.05" fill="#38004e"/>
<rect x="539.11" y="306.00" width="18.08" height="8.05" fill="#39004e"/>
<rect x="539.11" y="298.00" width="18.08" height="8.05" fill="#39004d"/>
<rect x="539.11" y="290.00" width="18.08" height="8.05" fill="#3a004d"/>
<rect x="539.11" y="282.00" width="18.08" height="8.05" fill="#3a004c"/>
<rect x="539.11" y="274.00" width="18.08" height="8.05" fill="#3b004c"/>
<rect x="539.11" y="258.00" width="18.08" height="16.05" fill="#3b004b"/>
<rect x="539.11" y="250.00" width="18.08" height="8.05" fill="#3c004b"/>
<rect x="539.11" y="234.00" width="18.08" height="16.05" fill="#3c004a"/>
<rect x="539.11" y="170.00" width="18.08" height="64.05" fill="#0c000c"/>
<rect x="557.14" y="794.00" width="18.08" height="8.05" fill="#3e003f"/>
<rect x="557.14" y="786.00" width="18.08" height="8.05" fill="#3e0040"/>
<rect x="557.14" y="778.00" width="18.08" height="8.05" fill="#3f0040"/>
<rect x="557.14" y="770.00" width="18.08" height="8.05" fill="#3f0041"/>
<rect x="557.14" y="762.00" width="18.08" height="8.05" fill="#400041"/>
<rect x="557.14" y="746.00" width="18.08" height="16.05" fill="#400042"/>
<rect x="557.14" y="730.00" width="18.08" height="16.05" fill="#410043"/>
<rect x="557.14" y="722.00" width="18.08" height="8.05" fill="#410045"/>
<rect x="557.14" y="714.00" width="18.08" height="8.05" fill="#400046"/>
<rect x="557.14" y="706.00" width="18.08" height="8.05" fill="#3e0048"/>
<rect x="557.14" y="698.00" width="18.08" height="8.05" fill="#3d0049"/>
<rect x="557.14" y="690.00" width="18.08" height="8.05" fill="#3b004b"/>
<rect x="557.14" y="682.00" width="18.08" height="8.05" fill="#39004e"/>
<rect x="557.14" y="674.00" width="18.08" height="8.05" fill="#370050"/>
<rect x="557.14" y="666.00" width="18.08" height="8.05" fill="#350052"/>
<rect x="557.14" y="658.00" width="18.08" height="8.05" fill="#310056"/>
<rect x="557.14" y="650.00" width="18.08" height="8.05" fill="#2e0059"/>
<rect x="557.14" y="642.00" width="18.08" height="8.05" fill="#2b005d"/>
<rect x="557.14" y="634.00" width="18.08" height="8.05" fill="#280060"/>
<rect x="557.14" y="626.00" width="18.08" height="8.05" fill="#250064"/>
<rect x="557.14" y="618.00" width="18.08" height="8.05" fill="#220067"/>
<rect x="557.14" y="610.00" width="18.08" height="8.05" fill="#1f006a"/>
<rect x="557.14" y="602.00" width="18.08" height="8.05" fill="#1c006d"/>
<rect x="557.14" y="594.00" width="18.08" height="8.05" fill="#1a006f"/>
<rect x="557.14" y="586.00" width="18.08" height="8.05" fill="#180071"/>
<rect x="557.14" y="578.00" width="18.08" height="8.05" fill="#160074"/>
<rect x="557.14" y="570.00" width="18.08" height="8.05" fill="#140076"/>
<rect x="557.14" y="554.00" width="18.08" height="16.05" fill="#140075"/>
<rect x="557.14" y="538.00" width="18.08" height="16.05" fill="#150074"/>
<rect x="557.14" y="530.00" width="18.08" height="8.05" fill="#160073"/>
<rect x="557.14" y="522.00" width="18.08" height="8.05" fill="#170073"/>
<rect x="557.14" y="514.00" width="18.08" height="8.05" fill="#170072"/>
<rect x="557.14" y="506.00" width="18.08" height="8.05" fill="#180071"/>
<rect x="557.14" y="498.00" width="18.08" height="8.05" fill="#190070"/>
<rect x="557.14" y="490.00" width="18.08" height="8.05" fill="#1a006f"/>
<rect x="557.14" y="482.00" width="18.08" height="8.05" fill="#1b006e"/>
<rect x="557.14" y="474.00" width="18.08" height="8.05" fill="#1c006d"/>
<rect x="557.14" y="466.00" width="18.08" height="8.05" fill="#1c006c"/>
<rect x="557.14" y="458.00" width="18.08" height="8.05" fill="#1d006b"/>
<rect x="557.14" y="450.00" width="18.08" height="8.05" fill="#1e006a"/>
<rect x="557.14" y="442.00" width="18.08" height="8.05" fill="#200069"/>
<rect x="557.14" y="434.00" width="18.08" height="8.05" fill="#210067"/>
<rect x="557.14" y="426.00" width="18.08" height="8.05" fill="#230065"/>
<rect x="557.14" y="418.00" width="18.08" height="8.05" fill="#260063"/>
<rect x="557.14" y="410.00" width="18.08" height="8.05" fill="#280060"/>
<rect x="557.14" y="402.00" width="18.08" height="8.05" fill="#29005f"/>
<rect x="557.14" y="394.00" width="18.08" height="8.05" fill="#2b005d"/>
<rect x="557.14" y="386.00" width="18.08" height="8.05" fill="#2c005b"/>
<rect x="557.14" y="378.00" width="18.08" height="8.05" fill="#2e005a"/>
<rect x="557.14" y="370.00" width="18.08" height="8.05" fill="#2f0059"/>
<rect x="557.14" y="362.00" width="18.08" height="8.05" fill="#300058"/>
<rect x="557.14" y="354.00" width="18.08" height="8.05" fill="#310056"/>
<rect x="557.14" y="346.00" width="18.08" height="8.05" fill="#320055"/>
<rect x="557.14" y="338.00" width="18.08" height="8.05" fill="#330054"/>
<rect x="557.14" y="306.00" width="18.08" height="32.05" fill="#340053"/>
<rect x="557.14" y="250.00" width="18.08" height="56.05" fill="#350052"/>
<rect x="557.14" y="170.00" width="18.08" height="80.05" fill="#0c000c"/>
<rect x="575.17" y="810.00" width="18.08" height="8.05" fill="#3b003d"/>
<rect x="575.17" y="802.00" width="18.08" height="8.05" fill="#3d003e"/>
<rect x="575.17" y="794.00" width="18.08" height="8.05" fill="#3e0040"/>
<rect x="575.17" y="786.00" width="18.08" height="8.05" fill="#3f0041"/>
<rect x="575.17" y="778.00" width="18.08" height="8.05" fill="#400042"/>
<rect x="575.17" y="770.00" width="18.08" height="8.05" fill="#410043"/>
<rect x="575.17" y="762.00" width="18.08" height="8.05" fill="#420044"/>
<rect x="575.17" y="754.00" width="18.08" height="8.05" fill="#410045"/>
<rect x="575.17" y="746.00" width="18.08" height="8.05" fill="#410046"/>
<rect x="575.17" y="738.00" width="18.08" height="8.05" fill="#400046"/>
<rect x="575.17" y="730.00" width="18.08" height="8.05" fill="#3f0047"/>
<rect x="575.17" y="722.00" width="18.08" height="8.05" fill="#3d004a"/>
<rect x="575.17" y="714.00" width="18.08" height="8.05" fill="#3a004c"/>
<rect x="575.17" y="706.00" width="18.08" height="8.05" fill="#360051"/>
<rect x="575.17" y="698.00" width="18.08" height="8.05" fill="#320055"/>
<rect x="575.17" y="690.00" width="18.08" height="8.05" fill="#2f0058"/>
<rect x="575.17" y="682.00" width="18.08" height="8.05" fill="#2c005c"/>
<rect x="575.17" y="674.00" width="18.08" height="8.05" fill="#270061"/>
<rect x="575.17" y="666.00" width="18.08" height="8.05" fill="#220066"/>
<rect x="575.17" y="658.00" width="18.08" height="8.05" fill="#1b006e"/>
<rect x="575.17" y="650.00" width="18.08" height="8.05" fill="#140076"/>
<rect x="575.17" y="642.00" width="18.08" height="8.05" fill="#0e007c"/>
<rect x="575.17" y="634.00" width="18.08" height="8.05" fill="#080083"/>
<rect x="575.17" y="626.00" width="18.08" height="8.05" fill="#020088"/>
<rect x="575.17" y="618.00" width="18.08" height="8.05" fill="#000685"/>
<rect x="575.17" y="610.00" width="18.08" height="8.05" fill="#000e7d"/>
<rect x="575.17" y="602.00" width="18.08" height="8.05" fill="#001675"/>
<rect x="575.17" y="594.00" width="18.08" height="8.05" fill="#00107b"/>
<rect x="575.17" y="586.00" width="18.08" height="8.05" fill="#000a81"/>
<rect x="575.17" y="578.00" width="18.08" height="8.05" fill="#000487"/>
<rect x="575.17" y="570.00" width="18.08" height="8.05" fill="#01008a"/>
<rect x="575.17" y="562.00" width="18.08" height="8.05" fill="#030088"/>
<rect x="575.17" y="554.00" width="18.08" height="8.05" fill="#050085"/>
<rect x="575.17" y="546.00" width="18.08" height="8.05" fill="#080083"/>
<rect x="575.17" y="538.00" width="18.08" height="8.05" fill="#0a0081"/>
<rect x="575.17" y="522.00" width="18.08" height="16.05" fill="#0c007e"/>
<rect x="575.17" y="514.00" width="18.08" height="8.05" fill="#0d007d"/>
<rect x="575.17" y="498.00" width="18.08" height="16.05" fill="#0e007c"/>
<rect x="575.17" y="490.00" width="18.08" height="8.05" fill="#0f007b"/>
<rect x="575.17" y="482.00" width="18.08" height="8.05" fill="#10007a"/>
<rect x="575.17" y="474.00" width="18.08" height="8.05" fill="#100079"/>
<rect x="575.17" y="466.00" width="18.08" height="8.05" fill="#110078"/>
<rect x="575.17" y="458.00" width="18.08" height="8.05" fill="#120078"/>
<rect x="575.17" y="450.00" width="18.08" height="8.05" fill="#130077"/>
<rect x="575.17" y="442.00" width="18.08" height="8.05" fill="#140075"/>
<rect x="575.17" y="434.00" width="18.08" height="8.05" fill="#160073"/>
<rect x="575.17" y="426.00" width="18.08" height="8.05" fill="#1a006f"/>
<rect x="575.17" y="418.00" width="18.08" height="8.05" fill="#1d006c"/>
<rect x="575.17" y="410.00" width="18.08" height="8.05" fill="#210068"/>
<rect x="575.17" y="402.00" width="18.08" height="8.05" fill="#240065"/>
<rect x="575.17" y="394.00" width="18.08" height="8.05" fill="#270061"/>
<rect x="575.17" y="386.00" width="18.08" height="8.05" fill="#29005f"/>
<rect x="575.17" y="378.00" width="18.08" height="8.05" fill="#2c005b"/>
<rect x="575.17" y="370.00" width="18.08" height="8.05" fill="#2e0059"/>
<rect x="575.17" y="362.00" width="18.08" height="8.05" fill="#300057"/>
<rect x="575.17" y="354.00" width="18.08" height="8.05" fill="#320055"/>
<rect x="575.17" y="346.00" width="18.08" height="8.05" fill="#330054"/>
<rect x="575.17" y="338.00" width="18.08" height="8.05" fill="#340053"/>
<rect x="575.17" y="330.00" width="18.08" height="8.05" fill="#350052"/>
<rect x="575.17" y="314.00" width="18.08" height="16.05" fill="#340053"/>
<rect x="575.17" y="298.00" width="18.08" height="16.05" fill="#330054"/>
<rect x="575.17" y="282.00" width="18.08" height="16.05" fill="#320055"/>
<rect x="575.17" y="266.00" width="18.08" height="16.05" fill="#310056"/>
<rect x="575.17" y="170.00" width="18.08" height="96.05" fill="#0c000c"/>
<rect x="593.19" y="810.00" width="18.08" height="8.05" fill="#3e0040"/>
<rect x="593.19" y="802.00" width="18.08" height="8.05" fill="#3f0041"/>
<rect x="593.19" y="794.00" width="18.08" height="8.05" fill="#400042"/>
<rect x="593.19" y="786.00" width="18.08" height="8.05" fill="#410043"/>
<rect x="593.19" y="778.00" width="18.08" height="8.05" fill="#420044"/>
<rect x="593.19" y="762.00" width="18.08" height="16.05" fill="#410045"/>
<rect x="593.19" y="754.00" width="18.08" height="8.05" fill="#400046"/>
<rect x="593.19" y="746.00" width="18.08" height="8.05" fill="#400047"/>
<rect x="593.19" y="738.00" width="18.08" height="8.05" fill="#3f0048"/>
<rect x="593.19" y="730.00" width="18.08" height="8.05" fill="#3e0049"/>
<rect x="593.19" y="722.00" width="18.08" height="8.05" fill="#3a004d"/>
<rect x="593.19" y="714.00" width="18.08" height="8.05" fill="#350052"/>
<rect x="593.19" y="706.00" width="18.08" height="8.05" fill="#320055"/>
<rect x="593.19" y="698.00" width="18.08" height="8.05" fill="#2f0058"/>
<rect x="593.19" y="690.00" width="18.08" height="8.05" fill="#2b005c"/>
<rect x="593.19" y="682.00" width="18.08" height="8.05" fill="#270061"/>
<rect x="593.19" y="674.00" width="18.08" height="8.05" fill="#200069"/>
<rect x="593.19" y="666.00" width="18.08" height="8.05" fill="#190070"/>
<rect x="593.19" y="658.00" width="18.08" height="8.05" fill="#110079"/>
<rect x="593.19" y="650.00" width="18.08" height="8.05" fill="#080083"/>
<rect x="593.19" y="642.00" width="18.08" height="8.05" fill="#000685"/>
<rect x="593.19" y="634.00" width="18.08" height="8.05" fill="#001972"/>
<rect x="593.19" y="626.00" width="18.08" height="8.05" fill="#002e5d"/>
<rect x="593.19" y="618.00" width="18.08" height="8.05" fill="#003655"/>
<rect x="593.19" y="610.00" width="18.08" height="8.05" fill="#003f4c"/>
<rect x="593.19" y="602.00" width="18.08" height="8.05" fill="#003655"/>
<rect x="593.19" y="594.00" width="18.08" height="8.05" fill="#002e5d"/>
<rect x="593.19" y="586.00" width="18.08" height="8.05" fill="#002665"/>
<rect x="593.19" y="578.00" width="18.08" height="8.05" fill="#001e6d"/>
<rect x="593.19" y="570.00" width="18.08" height="8.05" fill="#001675"/>
<rect x="593.19" y="562.00" width="18.08" height="8.05" fill="#00107b"/>
<rect x="593.19" y="554.00" width="18.08" height="8.05" fill="#000982"/>
<rect x="593.19" y="546.00" width="18.08" height="8.05" fill="#000388"/>
<rect x="593.19" y="538.00" width="18.08" height="8.05" fill="#020089"/>
<rect x="593.19" y="530.00" width="18.08" height="8.05" fill="#050086"/>
<rect x="593.19" y="522.00" width="18.08" height="8.05" fill="#060085"/>
<rect x="593.19" y="514.00" width="18.08" height="8.05" fill="#060084"/>
<rect x="593.19" y="506.00" width="18.08" height="8.05" fill="#070083"/>
<rect x="593.19" y="498.00" width="18.08" height="8.05" fill="#080082"/>
<rect x="593.19" y="490.00" width="18.08" height="8.05" fill="#090082"/>
<rect x="593.19" y="482.00" width="18.08" height="8.05" fill="#0a0080"/>
<rect x="593.19" y="474.00" width="18.08" height="8.05" fill="#0b007f"/>
<rect x="593.19" y="466.00" width="18.08" height="8.05" fill="#0c007e"/>
<rect x="593.19" y="458.00" width="18.08" height="8.05" fill="#0d007d"/>
<rect x="593.19" y="450.00" width="18.08" height="8.05" fill="#0e007c"/>
<rect x="593.19" y="442.00" width="18.08" height="8.05" fill="#10007a"/>
<rect x="593.19" y="434.00" width="18.08" height="8.05" fill="#120078"/>
<rect x="593.19" y="426.00" width="18.08" height="8.05" fill="#170073"/>
<rect x="593.19" y="418.00" width="18.08" height="8.05" fill="#1b006e"/>
<rect x="593.19" y="410.00" width="18.08" height="8.05" fill="#200069"/>
<rect x="593.19" y="402.00" width="18.08" height="8.05" fill="#230065"/>
<rect x="593.19" y="394.00" width="18.08" height="8.05" fill="#260062"/>
<rect x="593.19" y="386.00" width="18.08" height="8.05" fill="#29005f"/>
<rect x="593.19" y="378.00" width="18.08" height="8.05" fill="#2c005b"/>
<rect x="593.19" y="370.00" width="18.08" height="8.05" fill="#2f0059"/>
<rect x="593.19" y="362.00" width="18.08" height="8.05" fill="#310056"/>
<rect x="593.19" y="354.00" width="18.08" height="8.05" fill="#330054"/>
<rect x="593.19" y="346.00" width="18.08" height="8.05" fill="#340053"/>
<rect x="593.19" y="282.00" width="18.08" height="64.05" fill="#350052"/>
<rect x="593.19" y="170.00" width="18.08" height="112.05" fill="#0c000c"/>
<rect x="611.22" y="810.00" width="18.08" height="8.05" fill="#3e0040"/>
<rect x="611.22" y="802.00" width="18.08" height="8.05" fill="#3f0041"/>
<rect x="611.22" y="794.00" width="18.08" height="8.05" fill="#410043"/>
<rect x="611.22" y="786.00" width="18.08" height="8.05" fill="#420044"/>
<rect x="611.22" y="778.00" width="18.08" height="8.05" fill="#410045"/>
<rect x="611.22" y="770.00" width="18.08" height="8.05" fill="#400046"/>
<rect x="611.22" y="762.00" width="18.08" height="8.05" fill="#3f0047"/>
<rect x="611.22" y="754.00" width="18.08" height="8.05" fill="#3e0048"/>
<rect x="611.22" y="746.00" width="18.08" height="8.05" fill="#3d0049"/>
<rect x="611.22" y="738.00" width="18.08" height="8.05" fill="#39004d"/>
<rect x="611.22" y="730.00" width="18.08" height="8.05" fill="#350052"/>
<rect x="611.22" y="722.00" width="18.08" height="8.05" fill="#310057"/>
<rect x="611.22" y="714.00" width="18.08" height="8.05" fill="#2c005c"/>
<rect x="611.22" y="706.00" width="18.08" height="8.05" fill="#270061"/>
<rect x="611.22" y="698.00" width="18.08" height="8.05" fill="#220066"/>
<rect x="611.22" y="690.00" width="18.08" height="8.05" fill="#1b006e"/>
<rect x="611.22" y="682.00" width="18.08" height="8.05" fill="#140076"/>
<rect x="611.22" y="674.00" width="18.08" height="8.05" fill="#0a0080"/>
<rect x="611.22" y="666.00" width="18.08" height="8.05" fill="#000685"/>
<rect x="611.22" y="658.00" width="18.08" height="8.05" fill="#001e6d"/>
<rect x="611.22" y="650.00" width="18.08" height="8.05" fill="#003f4c"/>
<rect x="611.22" y="642.00" width="18.08" height="8.05" fill="#005c2f"/>
<rect x="611.22" y="634.00" width="18.08" height="8.05" fill="#006427"/>
<rect x="611.22" y="626.00" width="18.08" height="8.05" fill="#006724"/>
<rect x="611.22" y="618.00" width="18.08" height="8.05" fill="#006427"/>
<rect x="611.22" y="610.00" width="18.08" height="8.05" fill="#005f2c"/>
<rect x="611.22" y="602.00" width="18.08" height="8.05" fill="#005734"/>
<rect x="611.22" y="594.00" width="18.08" height="8.05" fill="#004b40"/>
<rect x="611.22" y="586.00" width="18.08" height="8.05" fill="#003f4c"/>
<rect x="611.22" y="578.00" width="18.08" height="8.05" fill="#003853"/>
<rect x="611.22" y="570.00" width="18.08" height="8.05" fill="#00315a"/>
<rect x="611.22" y="562.00" width="18.08" height="8.05" fill="#002a61"/>
<rect x="611.22" y="554.00" width="18.08" height="8.05" fill="#002368"/>
<rect x="611.22" y="546.00" width="18.08" height="8.05" fill="#001b70"/>
<rect x="611.22" y="538.00" width="18.08" height="8.05" fill="#001378"/>
<rect x="611.22" y="530.00" width="18.08" height="8.05" fill="#000b80"/>
<rect x="611.22" y="522.00" width="18.08" height="8.05" fill="#000784"/>
<rect x="611.22" y="514.00" width="18.08" height="8.05" fill="#000586"/>
<rect x="611.22" y="506.00" width="18.08" height="8.05" fill="#000388"/>
<rect x="611.22" y="498.00" width="18.08" height="8.05" fill="#00018a"/>
<rect x="611.22" y="490.00" width="18.08" height="8.05" fill="#00008b"/>
<rect x="611.22" y="482.00" width="18.08" height="8.05" fill="#010089"/>
<rect x="611.22" y="474.00" width="18.08" height="8.05" fill="#030088"/>
<rect x="611.22" y="466.00" width="18.08" height="8.05" fill="#040087"/>
<rect x="611.22" y="458.00" width="18.08" height="8.05" fill="#050086"/>
<rect x="611.22" y="450.00" width="18.08" height="8.05" fill="#060084"/>
<rect x="611.22" y="442.00" width="18.08" height="8.05" fill="#070083"/>
<rect x="611.22" y="434.00" width="18.08" height="8.05" fill="#0a0080"/>
<rect x="611.22" y="426.00" width="18.08" height="8.05" fill="#100079"/>
<rect x="611.22" y="418.00" width="18.08" height="8.05" fill="#170073"/>
<rect x="611.22" y="410.00" width="18.08" height="8.05" fill="#1d006c"/>
<rect x="611.22" y="402.00" width="18.08" height="8.05" fill="#210068"/>
<rect x="611.22" y="394.00" width="18.08" height="8.05" fill="#250064"/>
<rect x="611.22" y="386.00" width="18.08" height="8.05" fill="#280060"/>
<rect x="611.22" y="378.00" width="18.08" height="8.05" fill="#2b005d"/>
<rect x="611.22" y="370.00" width="18.08" height="8.05" fill="#2d005a"/>
<rect x="611.22" y="362.00" width="18.08" height="8.05" fill="#300058"/>
<rect x="611.22" y="354.00" width="18.08" height="8.05" fill="#320055"/>
<rect x="611.22" y="346.00" width="18.08" height="8.05" fill="#330054"/>
<rect x="611.22" y="338.00" width="18.08" height="8.05" fill="#340053"/>
<rect x="611.22" y="330.00" width="18.08" height="8.05" fill="#350052"/>
<rect x="611.22" y="322.00" width="18.08" height="8.05" fill="#360051"/>
<rect x="611.22" y="306.00" width="18.08" height="16.05" fill="#370050"/>
<rect x="611.22" y="298.00" width="18.08" height="8.05" fill="#38004f"/>
<rect x="611.22" y="290.00" width="18.08" height="8.05" fill="#39004e"/>
<rect x="611.22" y="170.00" width="18.08" height="120.05" fill="#0c000c"/>
<rect x="629.25" y="810.00" width="18.08" height="8.05" fill="#400042"/>
<rect x="629.25" y="802.00" width="18.08" height="8.05" fill="#420044"/>
<rect x="629.25" y="794.00" width="18.08" height="8.05" fill="#410045"/>
<rect x="629.25" y="786.00" width="18.08" height="8.05" fill="#400046"/>
<rect x="629.25" y="778.00" width="18.08" height="8.05" fill="#3f0047"/>
<rect x="629.25" y="770.00" width="18.08" height="8.05" fill="#3e0048"/>
<rect x="629.25" y="762.00" width="18.08" height="8.05" fill="#3d0049"/>
<rect x="629.25" y="754.00" width="18.08" height="8.05" fill="#39004d"/>
<rect x="629.25" y="746.00" width="18.08" height="8.05" fill="#350052"/>
<rect x="629.25" y="738.00" width="18.08" height="8.05" fill="#310057"/>
<rect x="629.25" y="730.00" width="18.08" height="8.05" fill="#2c005c"/>
<rect x="629.25" y="722.00" width="18.08" height="8.05" fill="#250063"/>
<rect x="629.25" y="714.00" width="18.08" height="8.05" fill="#1e006b"/>
<rect x="629.25" y="706.00" width="18.08" height="8.05" fill="#160073"/>
<rect x="629.25" y="698.00" width="18.08" height="8.05" fill="#0f007b"/>
<rect x="629.25" y="690.00" width="18.08" height="8.05" fill="#060085"/>
<rect x="629.25" y="682.00" width="18.08" height="8.05" fill="#000e7d"/>
<rect x="629.25" y="674.00" width="18.08" height="8.05" fill="#003655"/>
<rect x="629.25" y="666.00" width="18.08" height="8.05" fill="#006229"/>
<rect x="629.25" y="658.00" width="18.08" height="8.05" fill="#007b10"/>
<rect x="629.25" y="642.00" width="18.08" height="16.05" fill="#008605"/>
<rect x="629.25" y="634.00" width="18.08" height="8.05" fill="#007f0c"/>
<rect x="629.25" y="626.00" width="18.08" height="8.05" fill="#007417"/>
<rect x="629.25" y="618.00" width="18.08" height="8.05" fill="#006724"/>
<rect x="629.25" y="610.00" width="18.08" height="8.05" fill="#005a31"/>
<rect x="629.25" y="602.00" width="18.08" height="8.05" fill="#004f3c"/>
<rect x="629.25" y="594.00" width="18.08" height="8.05" fill="#004744"/>
<rect x="629.25" y="586.00" width="18.08" height="8.05" fill="#003f4c"/>
<rect x="629.25" y="578.00" width="18.08" height="8.05" fill="#003c4f"/>
<rect x="629.25" y="570.00" width="18.08" height="8.05" fill="#003952"/>
<rect x="629.25" y="562.00" width="18.08" height="8.05" fill="#003655"/>
<rect x="629.25" y="554.00" width="18.08" height="8.05" fill="#003358"/>
<rect x="629.25" y="538.00" width="18.08" height="16.05" fill="#003259"/>
<rect x="629.25" y="530.00" width="18.08" height="8.05" fill="#00315a"/>
<rect x="629.25" y="522.00" width="18.08" height="8.05" fill="#00305b"/>
<rect x="629.25" y="514.00" width="18.08" height="8.05" fill="#002f5c"/>
<rect x="629.25" y="474.00" width="18.08" height="40.05" fill="#002e5d"/>
<rect x="629.25" y="466.00" width="18.08" height="8.05" fill="#002962"/>
<rect x="629.25" y="458.00" width="18.08" height="8.05" fill="#002368"/>
<rect x="629.25" y="450.00" width="18.08" height="8.05" fill="#00117a"/>
<rect x="629.25" y="442.00" width="18.08" height="8.05" fill="#000784"/>
<rect x="629.25" y="434.00" width="18.08" height="8.05" fill="#020089"/>
<rect x="629.25" y="426.00" width="18.08" height="8.05" fill="#0c007e"/>
<rect x="629.25" y="418.00" width="18.08" height="8.05" fill="#140076"/>
<rect x="629.25" y="410.00" width="18.08" height="8.05" fill="#1a006f"/>
<rect x="629.25" y="402.00" width="18.08" height="8.05" fill="#1e006b"/>
<rect x="629.25" y="394.00" width="18.08" height="8.05" fill="#220066"/>
<rect x="629.25" y="386.00" width="18.08" height="8.05" fill="#260062"/>
<rect x="629.25" y="378.00" width="18.08" height="8.05" fill="#29005f"/>
<rect x="629.25" y="370.00" width="18.08" height="8.05" fill="#2c005c"/>
<rect x="629.25" y="362.00" width="18.08" height="8.05" fill="#2f0059"/>
<rect x="629.25" y="354.00" width="18.08" height="8.05" fill="#320056"/>
<rect x="629.25" y="346.00" width="18.08" height="8.05" fill="#330054"/>
<rect x="629.25" y="338.00" width="18.08" height="8.05" fill="#340053"/>
<rect x="629.25" y="330.00" width="18.08" height="8.05" fill="#350052"/>
<rect x="629.25" y="322.00" width="18.08" height="8.05" fill="#370050"/>
<rect x="629.25" y="314.00" width="18.08" height="8.05" fill="#38004f"/>
<rect x="629.25" y="306.00" width="18.08" height="8.05" fill="#39004d"/>
<rect x="629.25" y="298.00" width="18.08" height="8.05" fill="#3b004c"/>
<rect x="629.25" y="170.00" width="18.08" height="128.05" fill="#0c000c"/>
<rect x="647.28" y="810.00" width="18.08" height="8.05" fill="#410045"/>
<rect x="647.28" y="802.00" width="18.08" height="8.05" fill="#410046"/>
<rect x="647.28" y="794.00" width="18.08" height="8.05" fill="#400047"/>
<rect x="647.28" y="786.00" width="18.08" height="8.05" fill="#3e0048"/>
<rect x="647.28" y="778.00" width="18.08" height="8.05" fill="#3c004a"/>
<rect x="647.28" y="770.00" width="18.08" height="8.05" fill="#39004e"/>
<rect x="647.28" y="762.00" width="18.08" height="8.05" fill="#350052"/>
<rect x="647.28" y="754.00" width="18.08" height="8.05" fill="#310057"/>
<rect x="647.28" y="746.00" width="18.08" height="8.05" fill="#2c005c"/>
<rect x="647.28" y="738.00" width="18.08" height="8.05" fill="#250063"/>
<rect x="647.28" y="730.00" width="18.08" height="8.05" fill="#1e006b"/>
<rect x="647.28" y="722.00" width="18.08" height="8.05" fill="#140076"/>
<rect x="647.28" y="714.00" width="18.08" height="8.05" fill="#0a0080"/>
<rect x="647.28" y="706.00" width="18.08" height="8.05" fill="#000784"/>
<rect x="647.28" y="698.00" width="18.08" height="8.05" fill="#002e5d"/>
<rect x="647.28" y="690.00" width="18.08" height="8.05" fill="#006229"/>
<rect x="647.28" y="682.00" width="18.08" height="8.05" fill="#007f0c"/>
<rect x="647.28" y="674.00" width="18.08" height="8.05" fill="#078d00"/>
<rect x="647.28" y="666.00" width="18.08" height="8.05" fill="#0b8e00"/>
<rect x="647.28" y="658.00" width="18.08" height="8.05" fill="#078d00"/>
<rect x="647.28" y="650.00" width="18.08" height="8.05" fill="#008902"/>
<rect x="647.28" y="642.00" width="18.08" height="8.05" fill="#008308"/>
<rect x="647.28" y="634.00" width="18.08" height="8.05" fill="#007714"/>
<rect x="647.28" y="626.00" width="18.08" height="8.05" fill="#006c1f"/>
<rect x="647.28" y="618.00" width="18.08" height="8.05" fill="#005f2c"/>
<rect x="647.28" y="610.00" width="18.08" height="8.05" fill="#004f3c"/>
<rect x="647.28" y="602.00" width="18.08" height="8.05" fill="#004744"/>
<rect x="647.28" y="594.00" width="18.08" height="8.05" fill="#003f4c"/>
<rect x="647.28" y="554.00" width="18.08" height="40.05" fill="#003655"/>
<rect x="647.28" y="546.00" width="18.08" height="8.05" fill="#003952"/>
<rect x="647.28" y="538.00" width="18.08" height="8.05" fill="#003c4f"/>
<rect x="647.28" y="522.00" width="18.08" height="16.05" fill="#003f4c"/>
<rect x="647.28" y="514.00" width="18.08" height="8.05" fill="#004249"/>
<rect x="647.28" y="506.00" width="18.08" height="8.05" fill="#004447"/>
<rect x="647.28" y="498.00" width="18.08" height="8.05" fill="#004645"/>
<rect x="647.28" y="482.00" width="18.08" height="16.05" fill="#004843"/>
<rect x="647.28" y="474.00" width="18.08" height="8.05" fill="#004744"/>
<rect x="647.28" y="466.00" width="18.08" height="8.05" fill="#004348"/>
<rect x="647.28" y="458.00" width="18.08" height="8.05" fill="#003f4c"/>
<rect x="647.28" y="450.00" width="18.08" height="8.05" fill="#003655"/>
<rect x="647.28" y="442.00" width="18.08" height="8.05" fill="#002665"/>
<rect x="647.28" y="434.00" width="18.08" height="8.05" fill="#000b80"/>
<rect x="647.28" y="426.00" width="18.08" height="8.05" fill="#030088"/>
<rect x="647.28" y="418.00" width="18.08" height="8.05" fill="#0a0080"/>
<rect x="647.28" y="410.00" width="18.08" height="8.05" fill="#100079"/>
<rect x="647.28" y="402.00" width="18.08" height="8.05" fill="#140075"/>
<rect x="647.28" y="394.00" width="18.08" height="8.05" fill="#180071"/>
<rect x="647.28" y="386.00" width="18.08" height="8.05" fill="#1c006d"/>
<rect x="647.28" y="378.00" width="18.08" height="8.05" fill="#200069"/>
<rect x="647.28" y="370.00" width="18.08" height="8.05" fill="#220066"/>
<rect x="647.28" y="362.00" width="18.08" height="8.05" fill="#240064"/>
<rect x="647.28" y="354.00" width="18.08" height="8.05" fill="#260062"/>
<rect x="647.28" y="346.00" width="18.08" height="8.05" fill="#29005f"/>
<rect x="647.28" y="338.00" width="18.08" height="8.05" fill="#2b005d"/>
<rect x="647.28" y="330.00" width="18.08" height="8.05" fill="#2d005b"/>
<rect x="647.28" y="322.00" width="18.08" height="8.05" fill="#2f0058"/>
<rect x="647.28" y="314.00" width="18.08" height="8.05" fill="#310056"/>
<rect x="647.28" y="306.00" width="18.08" height="8.05" fill="#330054"/>
<rect x="647.28" y="298.00" width="18.08" height="8.05" fill="#350052"/>
<rect x="647.28" y="170.00" width="18.08" height="128.05" fill="#0c000c"/>
<rect x="665.31" y="810.00" width="18.08" height="8.05" fill="#410045"/>
<rect x="665.31" y="802.00" width="18.08" height="8.05" fill="#410046"/>
<rect x="665.31" y="794.00" width="18.08" height="8.05" fill="#400047"/>
<rect x="665.31" y="786.00" width="18.08" height="8.05" fill="#3e0048"/>
<rect x="665.31" y="778.00" width="18.08" height="8.05" fill="#3c004a"/>
<rect x="665.31" y="770.00" width="18.08" height="8.05" fill="#39004e"/>
<rect x="665.31" y="762.00" width="18.08" height="8.05" fill="#350052"/>
<rect x="665.31" y="754.00" width="18.08" height="8.05" fill="#310057"/>
<rect x="665.31" y="746.00" width="18.08" height="8.05" fill="#2c005c"/>
<rect x="665.31" y="738.00" width="18.08" height="8.05" fill="#220066"/>
<rect x="665.31" y="730.00" width="18.08" height="8.05" fill="#190070"/>
<rect x="665.31" y="722.00" width="18.08" height="8.05" fill="#110079"/>
<rect x="665.31" y="714.00" width="18.08" height="8.05" fill="#080083"/>
<rect x="665.31" y="706.00" width="18.08" height="8.05" fill="#000e7d"/>
<rect x="665.31" y="698.00" width="18.08" height="8.05" fill="#003655"/>
<rect x="665.31" y="690.00" width="18.08" height="8.05" fill="#006c1f"/>
<rect x="665.31" y="682.00" width="18.08" height="8.05" fill="#007b10"/>
<rect x="665.31" y="666.00" width="18.08" height="16.05" fill="#007f0c"/>
<rect x="665.31" y="658.00" width="18.08" height="8.05" fill="#007b10"/>
<rect x="665.31" y="650.00" width="18.08" height="8.05" fill="#007417"/>
<rect x="665.31" y="642.00" width="18.08" height="8.05" fill="#006c1f"/>
<rect x="665.31" y="634.00" width="18.08" height="8.05" fill="#005f2c"/>
<rect x="665.31" y="626.00" width="18.08" height="8.05" fill="#005239"/>
<rect x="665.31" y="618.00" width="18.08" height="8.05" fill="#004744"/>
<rect x="665.31" y="610.00" width="18.08" height="8.05" fill="#003f4c"/>
<rect x="665.31" y="602.00" width="18.08" height="8.05" fill="#003655"/>
<rect x="665.31" y="594.00" width="18.08" height="8.05" fill="#003457"/>
<rect x="665.31" y="586.00" width="18.08" height="8.05" fill="#003259"/>
<rect x="665.31" y="578.00" width="18.08" height="8.05" fill="#00305b"/>
<rect x="665.31" y="570.00" width="18.08" height="8.05" fill="#002e5d"/>
<rect x="665.31" y="562.00" width="18.08" height="8.05" fill="#003358"/>
<rect x="665.31" y="554.00" width="18.08" height="8.05" fill="#003853"/>
<rect x="665.31" y="546.00" width="18.08" height="8.05" fill="#003d4e"/>
<rect x="665.31" y="538.00" width="18.08" height="8.05" fill="#004249"/>
<rect x="665.31" y="530.00" width="18.08" height="8.05" fill="#004843"/>
<rect x="665.31" y="522.00" width="18.08" height="8.05" fill="#004d3e"/>
<rect x="665.31" y="514.00" width="18.08" height="8.05" fill="#005239"/>
<rect x="665.31" y="506.00" width="18.08" height="8.05" fill="#005734"/>
<rect x="665.31" y="498.00" width="18.08" height="8.05" fill="#005c2f"/>
<rect x="665.31" y="490.00" width="18.08" height="8.05" fill="#006229"/>
<rect x="665.31" y="474.00" width="18.08" height="16.05" fill="#006625"/>
<rect x="665.31" y="466.00" width="18.08" height="8.05" fill="#006229"/>
<rect x="665.31" y="458.00" width="18.08" height="8.05" fill="#005a31"/>
<rect x="665.31" y="450.00" width="18.08" height="8.05" fill="#004f3c"/>
<rect x="665.31" y="442.00" width="18.08" height="8.05" fill="#003f4c"/>
<rect x="665.31" y="434.00" width="18.08" height="8.05" fill="#002b60"/>
<rect x="665.31" y="426.00" width="18.08" height="8.05" fill="#000487"/>
<rect x="665.31" y="418.00" width="18.08" height="8.05" fill="#050086"/>
<rect x="665.31" y="410.00" width="18.08" height="8.05" fill="#090082"/>
<rect x="665.31" y="402.00" width="18.08" height="8.05" fill="#0d007d"/>
<rect x="665.31" y="394.00" width="18.08" height="8.05" fill="#100079"/>
<rect x="665.31" y="386.00" width="18.08" height="8.05" fill="#140075"/>
<rect x="665.31" y="378.00" width="18.08" height="8.05" fill="#180071"/>
<rect x="665.31" y="370.00" width="18.08" height="8.05" fill="#1a006f"/>
<rect x="665.31" y="362.00" width="18.08" height="8.05" fill="#1d006c"/>
<rect x="665.31" y="354.00" width="18.08" height="8.05" fill="#1f006a"/>
<rect x="665.31" y="346.00" width="18.08" height="8.05" fill="#210068"/>
<rect x="665.31" y="338.00" width="18.08" height="8.05" fill="#230065"/>
<rect x="665.31" y="330.00" width="18.08" height="8.05" fill="#250063"/>
<rect x="665.31" y="322.00" width="18.08" height="8.05" fill="#270061"/>
<rect x="665.31" y="314.00" width="18.08" height="8.05" fill="#29005f"/>
<rect x="665.31" y="306.00" width="18.08" height="8.05" fill="#2b005c"/>
<rect x="665.31" y="298.00" width="18.08" height="8.05" fill="#2d005a"/>
<rect x="665.31" y="290.00" width="18.08" height="8.05" fill="#2f0058"/>
<rect x="665.31" y="170.00" width="18.08" height="120.05" fill="#0c000c"/>
<rect x="683.33" y="810.00" width="18.08" height="8.05" fill="#3e0040"/>
<rect x="683.33" y="802.00" width="18.08" height="8.05" fill="#3f0041"/>
<rect x="683.33" y="794.00" width="18.08" height="8.05" fill="#410043"/>
<rect x="683.33" y="786.00" width="18.08" height="8.05" fill="#420044"/>
<rect x="683.33" y="778.00" width="18.08" height="8.05" fill="#410045"/>
<rect x="683.33" y="770.00" width="18.08" height="8.05" fill="#400046"/>
<rect x="683.33" y="762.00" width="18.08" height="8.05" fill="#3f0047"/>
<rect x="683.33" y="754.00" width="18.08" height="8.05" fill="#3d004a"/>
<rect x="683.33" y="746.00" width="18.08" height="8.05" fill="#3a004c"/>
<rect x="683.33" y="738.00" width="18.08" height="8.05" fill="#360051"/>
<rect x="683.33" y="730.00" width="18.08" height="8.05" fill="#320055"/>
<rect x="683.33" y="722.00" width="18.08" height="8.05" fill="#2d005b"/>
<rect x="683.33" y="714.00" width="18.08" height="8.05" fill="#270061"/>
<rect x="683.33" y="706.00" width="18.08" height="8.05" fill="#1e006b"/>
<rect x="683.33" y="698.00" width="18.08" height="8.05" fill="#140076"/>
<rect x="683.33" y="690.00" width="18.08" height="8.05" fill="#0a0080"/>
<rect x="683.33" y="682.00" width="18.08" height="8.05" fill="#000685"/>
<rect x="683.33" y="674.00" width="18.08" height="8.05" fill="#002665"/>
<rect x="683.33" y="666.00" width="18.08" height="8.05" fill="#003f4c"/>
<rect x="683.33" y="658.00" width="18.08" height="8.05" fill="#004c3f"/>
<rect x="683.33" y="650.00" width="18.08" height="8.05" fill="#004744"/>
<rect x="683.33" y="642.00" width="18.08" height="8.05" fill="#003f4c"/>
<rect x="683.33" y="634.00" width="18.08" height="8.05" fill="#003655"/>
<rect x="683.33" y="626.00" width="18.08" height="8.05" fill="#002e5d"/>
<rect x="683.33" y="618.00" width="18.08" height="8.05" fill="#002665"/>
<rect x="683.33" y="610.00" width="18.08" height="8.05" fill="#001e6d"/>
<rect x="683.33" y="586.00" width="18.08" height="24.05" fill="#001675"/>
<rect x="683.33" y="578.00" width="18.08" height="8.05" fill="#001873"/>
<rect x="683.33" y="570.00" width="18.08" height="8.05" fill="#001a71"/>
<rect x="683.33" y="562.00" width="18.08" height="8.05" fill="#001c6f"/>
<rect x="683.33" y="554.00" width="18.08" height="8.05" fill="#001e6d"/>
<rect x="683.33" y="546.00" width="18.08" height="8.05" fill="#002467"/>
<rect x="683.33" y="538.00" width="18.08" height="8.05" fill="#002962"/>
<rect x="683.33" y="530.00" width="18.08" height="8.05" fill="#002e5d"/>
<rect x="683.33" y="522.00" width="18.08" height="8.05" fill="#003655"/>
<rect x="683.33" y="514.00" width="18.08" height="8.05" fill="#003f4c"/>
<rect x="683.33" y="506.00" width="18.08" height="8.05" fill="#004843"/>
<rect x="683.33" y="498.00" width="18.08" height="8.05" fill="#005437"/>
<rect x="683.33" y="490.00" width="18.08" height="8.05" fill="#006229"/>
<rect x="683.33" y="482.00" width="18.08" height="8.05" fill="#006f1c"/>
<rect x="683.33" y="474.00" width="18.08" height="8.05" fill="#007b10"/>
<rect x="683.33" y="466.00" width="18.08" height="8.05" fill="#008407"/>
<rect x="683.33" y="458.00" width="18.08" height="8.05" fill="#008803"/>
<rect x="683.33" y="450.00" width="18.08" height="8.05" fill="#008308"/>
<rect x="683.33" y="442.00" width="18.08" height="8.05" fill="#007318"/>
<rect x="683.33" y="434.00" width="18.08" height="8.05" fill="#004f3c"/>
<rect x="683.33" y="426.00" width="18.08" height="8.05" fill="#003655"/>
<rect x="683.33" y="418.00" width="18.08" height="8.05" fill="#000e7d"/>
<rect x="683.33" y="410.00" width="18.08" height="8.05" fill="#000388"/>
<rect x="683.33" y="402.00" width="18.08" height="8.05" fill="#030088"/>
<rect x="683.33" y="394.00" width="18.08" height="8.05" fill="#060084"/>
<rect x="683.33" y="386.00" width="18.08" height="8.05" fill="#0c007e"/>
<rect x="683.33" y="378.00" width="18.08" height="8.05" fill="#140076"/>
<rect x="683.33" y="370.00" width="18.08" height="8.05" fill="#160073"/>
<rect x="683.33" y="362.00" width="18.08" height="8.05" fill="#180071"/>
<rect x="683.33" y="354.00" width="18.08" height="8.05" fill="#1a006f"/>
<rect x="683.33" y="346.00" width="18.08" height="8.05" fill="#1d006c"/>
<rect x="683.33" y="338.00" width="18.08" height="8.05" fill="#1f006a"/>
<rect x="683.33" y="330.00" width="18.08" height="8.05" fill="#210067"/>
<rect x="683.33" y="322.00" width="18.08" height="8.05" fill="#230065"/>
<rect x="683.33" y="314.00" width="18.08" height="8.05" fill="#250063"/>
<rect x="683.33" y="306.00" width="18.08" height="8.05" fill="#260062"/>
<rect x="683.33" y="298.00" width="18.08" height="8.05" fill="#280060"/>
<rect x="683.33" y="290.00" width="18.08" height="8.05" fill="#2a005e"/>
<rect x="683.33" y="282.00" width="18.08" height="8.05" fill="#2b005c"/>
<rect x="683.33" y="170.00" width="18.08" height="112.05" fill="#0c000c"/>
<rect x="701.36" y="810.00" width="18.08" height="8.05" fill="#380039"/>
<rect x="701.36" y="802.00" width="18.08" height="8.05" fill="#39003b"/>
<rect x="701.36" y="794.00" width="18.08" height="8.05" fill="#3b003d"/>
<rect x="701.36" y="786.00" width="18.08" height="8.05" fill="#3c003e"/>
<rect x="701.36" y="778.00" width="18.08" height="8.05" fill="#3d003e"/>
<rect x="701.36" y="770.00" width="18.08" height="8.05" fill="#3d003f"/>
<rect x="701.36" y="762.00" width="18.08" height="8.05" fill="#3e0040"/>
<rect x="701.36" y="754.00" width="18.08" height="8.05" fill="#3f0041"/>
<rect x="701.36" y="746.00" width="18.08" height="8.05" fill="#410043"/>
<rect x="701.36" y="738.00" width="18.08" height="8.05" fill="#420044"/>
<rect x="701.36" y="730.00" width="18.08" height="8.05" fill="#410045"/>
<rect x="701.36" y="722.00" width="18.08" height="8.05" fill="#3f0047"/>
<rect x="701.36" y="714.00" width="18.08" height="8.05" fill="#3d0049"/>
<rect x="701.36" y="706.00" width="18.08" height="8.05" fill="#39004d"/>
<rect x="701.36" y="698.00" width="18.08" height="8.05" fill="#350052"/>
<rect x="701.36" y="690.00" width="18.08" height="8.05" fill="#310057"/>
<rect x="701.36" y="682.00" width="18.08" height="8.05" fill="#2c005c"/>
<rect x="701.36" y="674.00" width="18.08" height="8.05" fill="#220066"/>
<rect x="701.36" y="666.00" width="18.08" height="8.05" fill="#190070"/>
<rect x="701.36" y="658.00" width="18.08" height="8.05" fill="#0f007b"/>
<rect x="701.36" y="650.00" width="18.08" height="8.05" fill="#060085"/>
<rect x="701.36" y="642.00" width="18.08" height="8.05" fill="#00008b"/>
<rect x="701.36" y="602.00" width="18.08" height="40.05" fill="#000685"/>
<rect x="701.36" y="594.00" width="18.08" height="8.05" fill="#000a81"/>
<rect x="701.36" y="586.00" width="18.08" height="8.05" fill="#000e7d"/>
<rect x="701.36" y="578.00" width="18.08" height="8.05" fill="#00107b"/>
<rect x="701.36" y="570.00" width="18.08" height="8.05" fill="#001279"/>
<rect x="701.36" y="562.00" width="18.08" height="8.05" fill="#001477"/>
<rect x="701.36" y="554.00" width="18.08" height="8.05" fill="#001675"/>
<rect x="701.36" y="546.00" width="18.08" height="8.05" fill="#001972"/>
<rect x="701.36" y="538.00" width="18.08" height="8.05" fill="#001b70"/>
<rect x="701.36" y="530.00" width="18.08" height="8.05" fill="#001e6d"/>
<rect x="701.36" y="522.00" width="18.08" height="8.05" fill="#002665"/>
<rect x="701.36" y="514.00" width="18.08" height="8.05" fill="#002d5e"/>
<rect x="701.36" y="506.00" width="18.08" height="8.05" fill="#003358"/>
<rect x="701.36" y="498.00" width="18.08" height="8.05" fill="#003f4c"/>
<rect x="701.36" y="490.00" width="18.08" height="8.05" fill="#004744"/>
<rect x="701.36" y="482.00" width="18.08" height="8.05" fill="#005437"/>
<rect x="701.36" y="474.00" width="18.08" height="8.05" fill="#006724"/>
<rect x="701.36" y="466.00" width="18.08" height="8.05" fill="#007714"/>
<rect x="701.36" y="458.00" width="18.08" height="8.05" fill="#008407"/>
<rect x="701.36" y="450.00" width="18.08" height="8.05" fill="#078d00"/>
<rect x="701.36" y="442.00" width="18.08" height="8.05" fill="#129100"/>
<rect x="701.36" y="434.00" width="18.08" height="8.05" fill="#199300"/>
<rect x="701.36" y="426.00" width="18.08" height="8.05" fill="#1e9400"/>
<rect x="701.36" y="418.00" width="18.08" height="8.05" fill="#129100"/>
<rect x="701.36" y="410.00" width="18.08" height="8.05" fill="#028c00"/>
<rect x="701.36" y="402.00" width="18.08" height="8.05" fill="#006c1f"/>
<rect x="701.36" y="394.00" width="18.08" height="8.05" fill="#004348"/>
<rect x="701.36" y="386.00" width="18.08" height="8.05" fill="#000e7d"/>
<rect x="701.36" y="378.00" width="18.08" height="8.05" fill="#00008b"/>
<rect x="701.36" y="370.00" width="18.08" height="8.05" fill="#0a0080"/>
<rect x="701.36" y="362.00" width="18.08" height="8.05" fill="#0d007d"/>
<rect x="701.36" y="354.00" width="18.08" height="8.05" fill="#10007a"/>
<rect x="701.36" y="346.00" width="18.08" height="8.05" fill="#130077"/>
<rect x="701.36" y="338.00" width="18.08" height="8.05" fill="#150074"/>
<rect x="701.36" y="330.00" width="18.08" height="8.05" fill="#180071"/>
<rect x="701.36" y="322.00" width="18.08" height="8.05" fill="#1a006f"/>
<rect x="701.36" y="314.00" width="18.08" height="8.05" fill="#1b006d"/>
<rect x="701.36" y="306.00" width="18.08" height="8.05" fill="#1d006c"/>
<rect x="701.36" y="298.00" width="18.08" height="8.05" fill="#1f006a"/>
<rect x="701.36" y="290.00" width="18.08" height="8.05" fill="#200068"/>
<rect x="701.36" y="282.00" width="18.08" height="8.05" fill="#220066"/>
<rect x="701.36" y="274.00" width="18.08" height="8.05" fill="#240065"/>
<rect x="701.36" y="266.00" width="18.08" height="8.05" fill="#250063"/>
<rect x="701.36" y="170.00" width="18.08" height="96.05" fill="#0c000c"/>
<rect x="719.39" y="794.00" width="18.08" height="8.05" fill="#340036"/>
<rect x="719.39" y="786.00" width="18.08" height="8.05" fill="#360038"/>
<rect x="719.39" y="778.00" width="18.08" height="8.05" fill="#380039"/>
<rect x="719.39" y="770.00" width="18.08" height="8.05" fill="#38003a"/>
<rect x="719.39" y="762.00" width="18.08" height="8.05" fill="#39003b"/>
<rect x="719.39" y="754.00" width="18.08" height="8.05" fill="#3a003c"/>
<rect x="719.39" y="746.00" width="18.08" height="8.05" fill="#3b003d"/>
<rect x="719.39" y="738.00" width="18.08" height="8.05" fill="#3c003e"/>
<rect x="719.39" y="730.00" width="18.08" height="8.05" fill="#3d003e"/>
<rect x="719.39" y="722.00" width="18.08" height="8.05" fill="#3d003f"/>
<rect x="719.39" y="714.00" width="18.08" height="8.05" fill="#3e0040"/>
<rect x="719.39" y="706.00" width="18.08" height="8.05" fill="#3f0041"/>
<rect x="719.39" y="698.00" width="18.08" height="8.05" fill="#410043"/>
<rect x="719.39" y="690.00" width="18.08" height="8.05" fill="#420044"/>
<rect x="719.39" y="682.00" width="18.08" height="8.05" fill="#410045"/>
<rect x="719.39" y="674.00" width="18.08" height="8.05" fill="#3f0047"/>
<rect x="719.39" y="666.00" width="18.08" height="8.05" fill="#3d0049"/>
<rect x="719.39" y="658.00" width="18.08" height="8.05" fill="#39004d"/>
<rect x="719.39" y="650.00" width="18.08" height="8.05" fill="#350052"/>
<rect x="719.39" y="642.00" width="18.08" height="8.05" fill="#2f0058"/>
<rect x="719.39" y="634.00" width="18.08" height="8.05" fill="#270061"/>
<rect x="719.39" y="626.00" width="18.08" height="8.05" fill="#190070"/>
<rect x="719.39" y="618.00" width="18.08" height="8.05" fill="#0f007b"/>
<rect x="719.39" y="610.00" width="18.08" height="8.05" fill="#060085"/>
<rect x="719.39" y="602.00" width="18.08" height="8.05" fill="#000b80"/>
<rect x="719.39" y="594.00" width="18.08" height="8.05" fill="#000e7d"/>
<rect x="719.39" y="586.00" width="18.08" height="8.05" fill="#00107b"/>
<rect x="719.39" y="578.00" width="18.08" height="8.05" fill="#001378"/>
<rect x="719.39" y="570.00" width="18.08" height="8.05" fill="#001675"/>
<rect x="719.39" y="562.00" width="18.08" height="8.05" fill="#001873"/>
<rect x="719.39" y="554.00" width="18.08" height="8.05" fill="#001a71"/>
<rect x="719.39" y="546.00" width="18.08" height="8.05" fill="#001c6f"/>
<rect x="719.39" y="538.00" width="18.08" height="8.05" fill="#001e6d"/>
<rect x="719.39" y="530.00" width="18.08" height="8.05" fill="#002269"/>
<rect x="719.39" y="522.00" width="18.08" height="8.05" fill="#002665"/>
<rect x="719.39" y="514.00" width="18.08" height="8.05" fill="#002e5d"/>
<rect x="719.39" y="506.00" width="18.08" height="8.05" fill="#003655"/>
<rect x="719.39" y="498.00" width="18.08" height="8.05" fill="#003f4c"/>
<rect x="719.39" y="490.00" width="18.08" height="8.05" fill="#004843"/>
<rect x="719.39" y="482.00" width="18.08" height="8.05" fill="#005239"/>
<rect x="719.39" y="474.00" width="18.08" height="8.05" fill="#005c2f"/>
<rect x="719.39" y="466.00" width="18.08" height="8.05" fill="#006c1f"/>
<rect x="719.39" y="458.00" width="18.08" height="8.05" fill="#007b10"/>
<rect x="719.39" y="450.00" width="18.08" height="8.05" fill="#008803"/>
<rect x="719.39" y="442.00" width="18.08" height="8.05" fill="#0e8f00"/>
<rect x="719.39" y="434.00" width="18.08" height="8.05" fill="#239600"/>
<rect x="719.39" y="426.00" width="18.08" height="8.05" fill="#3a9d00"/>
<rect x="719.39" y="418.00" width="18.08" height="8.05" fill="#54a500"/>
<rect x="719.39" y="410.00" width="18.08" height="8.05" fill="#6dac00"/>
<rect x="719.39" y="402.00" width="18.08" height="8.05" fill="#80b200"/>
<rect x="719.39" y="394.00" width="18.08" height="8.05" fill="#8cb600"/>
<rect x="719.39" y="386.00" width="18.08" height="8.05" fill="#80b200"/>
<rect x="719.39" y="378.00" width="18.08" height="8.05" fill="#70ad00"/>
<rect x="719.39" y="370.00" width="18.08" height="8.05" fill="#419f00"/>
<rect x="719.39" y="362.00" width="18.08" height="8.05" fill="#129100"/>
<rect x="719.39" y="354.00" width="18.08" height="8.05" fill="#006724"/>
<rect x="719.39" y="346.00" width="18.08" height="8.05" fill="#002e5d"/>
<rect x="719.39" y="338.00" width="18.08" height="8.05" fill="#01008a"/>
<rect x="719.39" y="330.00" width="18.08" height="8.05" fill="#040087"/>
<rect x="719.39" y="322.00" width="18.08" height="8.05" fill="#070084"/>
<rect x="719.39" y="314.00" width="18.08" height="8.05" fill="#090081"/>
<rect x="719.39" y="306.00" width="18.08" height="8.05" fill="#0c007e"/>
<rect x="719.39" y="298.00" width="18.08" height="8.05" fill="#0f007b"/>
<rect x="719.39" y="290.00" width="18.08" height="8.05" fill="#130076"/>
<rect x="719.39" y="282.00" width="18.08" height="8.05" fill="#170072"/>
<rect x="719.39" y="274.00" width="18.08" height="8.05" fill="#1b006e"/>
<rect x="719.39" y="266.00" width="18.08" height="8.05" fill="#200069"/>
<rect x="719.39" y="258.00" width="18.08" height="8.05" fill="#240065"/>
<rect x="719.39" y="250.00" width="18.08" height="8.05" fill="#280060"/>
<rect x="719.39" y="234.00" width="18.08" height="16.05" fill="#2c005c"/>
<rect x="719.39" y="170.00" width="18.08" height="64.05" fill="#0c000c"/>
<rect x="737.42" y="762.00" width="18.08" height="8.05" fill="#300032"/>
<rect x="737.42" y="754.00" width="18.08" height="8.05" fill="#320034"/>
<rect x="737.42" y="746.00" width="18.08" height="8.05" fill="#340036"/>
<rect x="737.42" y="738.00" width="18.08" height="8.05" fill="#350037"/>
<rect x="737.42" y="730.00" width="18.08" height="8.05" fill="#360038"/>
<rect x="737.42" y="722.00" width="18.08" height="8.05" fill="#370038"/>
<rect x="737.42" y="714.00" width="18.08" height="8.05" fill="#380039"/>
<rect x="737.42" y="706.00" width="18.08" height="8.05" fill="#39003b"/>
<rect x="737.42" y="698.00" width="18.08" height="8.05" fill="#3b003d"/>
<rect x="737.42" y="690.00" width="18.08" height="8.05" fill="#3d003e"/>
<rect x="737.42" y="682.00" width="18.08" height="8.05" fill="#3e0040"/>
<rect x="737.42" y="674.00" width="18.08" height="8.05" fill="#3f0041"/>
<rect x="737.42" y="666.00" width="18.08" height="8.05" fill="#410043"/>
<rect x="737.42" y="658.00" width="18.08" height="8.05" fill="#420044"/>
<rect x="737.42" y="650.00" width="18.08" height="8.05" fill="#410045"/>
<rect x="737.42" y="642.00" width="18.08" height="8.05" fill="#3f0047"/>
<rect x="737.42" y="634.00" width="18.08" height="8.05" fill="#3d0049"/>
<rect x="737.42" y="626.00" width="18.08" height="8.05" fill="#39004d"/>
<rect x="737.42" y="618.00" width="18.08" height="8.05" fill="#350052"/>
<rect x="737.42" y="610.00" width="18.08" height="8.05" fill="#320055"/>
<rect x="737.42" y="602.00" width="18.08" height="8.05" fill="#2c005c"/>
<rect x="737.42" y="594.00" width="18.08" height="8.05" fill="#270061"/>
<rect x="737.42" y="586.00" width="18.08" height="8.05" fill="#1e006b"/>
<rect x="737.42" y="578.00" width="18.08" height="8.05" fill="#110079"/>
<rect x="737.42" y="570.00" width="18.08" height="8.05" fill="#060085"/>
<rect x="737.42" y="562.00" width="18.08" height="8.05" fill="#000e7d"/>
<rect x="737.42" y="554.00" width="18.08" height="8.05" fill="#002e5d"/>
<rect x="737.42" y="546.00" width="18.08" height="8.05" fill="#004744"/>
<rect x="737.42" y="538.00" width="18.08" height="8.05" fill="#005c2f"/>
<rect x="737.42" y="530.00" width="18.08" height="8.05" fill="#006229"/>
<rect x="737.42" y="522.00" width="18.08" height="8.05" fill="#005c2f"/>
<rect x="737.42" y="514.00" width="18.08" height="8.05" fill="#005734"/>
<rect x="737.42" y="490.00" width="18.08" height="24.05" fill="#005239"/>
<rect x="737.42" y="482.00" width="18.08" height="8.05" fill="#005734"/>
<rect x="737.42" y="474.00" width="18.08" height="8.05" fill="#005c2f"/>
<rect x="737.42" y="466.00" width="18.08" height="8.05" fill="#006229"/>
<rect x="737.42" y="458.00" width="18.08" height="8.05" fill="#006c1f"/>
<rect x="737.42" y="450.00" width="18.08" height="8.05" fill="#007912"/>
<rect x="737.42" y="442.00" width="18.08" height="8.05" fill="#008407"/>
<rect x="737.42" y="434.00" width="18.08" height="8.05" fill="#078d00"/>
<rect x="737.42" y="426.00" width="18.08" height="8.05" fill="#159100"/>
<rect x="737.42" y="418.00" width="18.08" height="8.05" fill="#2c9800"/>
<rect x="737.42" y="410.00" width="18.08" height="8.05" fill="#4da200"/>
<rect x="737.42" y="402.00" width="18.08" height="8.05" fill="#77af00"/>
<rect x="737.42" y="394.00" width="18.08" height="8.05" fill="#97b900"/>
<rect x="737.42" y="386.00" width="18.08" height="8.05" fill="#aabf00"/>
<rect x="737.42" y="378.00" width="18.08" height="8.05" fill="#b6c200"/>
<rect x="737.42" y="370.00" width="18.08" height="8.05" fill="#bdc500"/>
<rect x="737.42" y="362.00" width="18.08" height="8.05" fill="#c1c600"/>
<rect x="737.42" y="354.00" width="18.08" height="8.05" fill="#c8c800"/>
<rect x="737.42" y="346.00" width="18.08" height="8.05" fill="#c1c600"/>
<rect x="737.42" y="338.00" width="18.08" height="8.05" fill="#93b800"/>
<rect x="737.42" y="330.00" width="18.08" height="8.05" fill="#2a9800"/>
<rect x="737.42" y="322.00" width="18.08" height="8.05" fill="#006724"/>
<rect x="737.42" y="314.00" width="18.08" height="8.05" fill="#002e5d"/>
<rect x="737.42" y="306.00" width="18.08" height="8.05" fill="#000685"/>
<rect x="737.42" y="298.00" width="18.08" height="8.05" fill="#040087"/>
<rect x="737.42" y="290.00" width="18.08" height="8.05" fill="#0a0080"/>
<rect x="737.42" y="282.00" width="18.08" height="8.05" fill="#0f007b"/>
<rect x="737.42" y="274.00" width="18.08" height="8.05" fill="#140076"/>
<rect x="737.42" y="266.00" width="18.08" height="8.05" fill="#190070"/>
<rect x="737.42" y="258.00" width="18.08" height="8.05" fill="#1e006b"/>
<rect x="737.42" y="250.00" width="18.08" height="8.05" fill="#200068"/>
<rect x="737.42" y="242.00" width="18.08" height="8.05" fill="#230065"/>
<rect x="737.42" y="234.00" width="18.08" height="8.05" fill="#260062"/>
<rect x="737.42" y="226.00" width="18.08" height="8.05" fill="#29005f"/>
<rect x="737.42" y="210.00" width="18.08" height="16.05" fill="#2c005c"/>
<rect x="737.42" y="170.00" width="18.08" height="40.05" fill="#0c000c"/>
<rect x="755.44" y="730.00" width="18.08" height="8.05" fill="#2a002b"/>
<rect x="755.44" y="722.00" width="18.08" height="8.05" fill="#2c002d"/>
<rect x="755.44" y="714.00" width="18.08" height="8.05" fill="#2d002e"/>
<rect x="755.44" y="706.00" width="18.08" height="8.05" fill="#2f0030"/>
<rect x="755.44" y="698.00" width="18.08" height="8.05" fill="#310032"/>
<rect x="755.44" y="690.00" width="18.08" height="8.05" fill="#330034"/>
<rect x="755.44" y="682.00" width="18.08" height="8.05" fill="#340036"/>
<rect x="755.44" y="674.00" width="18.08" height="8.05" fill="#360038"/>
<rect x="755.44" y="666.00" width="18.08" height="8.05" fill="#380039"/>
<rect x="755.44" y="658.00" width="18.08" height="8.05" fill="#39003b"/>
<rect x="755.44" y="650.00" width="18.08" height="8.05" fill="#3b003d"/>
<rect x="755.44" y="642.00" width="18.08" height="8.05" fill="#3d003e"/>
<rect x="755.44" y="634.00" width="18.08" height="8.05" fill="#3e0040"/>
<rect x="755.44" y="626.00" width="18.08" height="8.05" fill="#410043"/>
<rect x="755.44" y="618.00" width="18.08" height="8.05" fill="#410045"/>
<rect x="755.44" y="610.00" width="18.08" height="8.05" fill="#3f0047"/>
<rect x="755.44" y="602.00" width="18.08" height="8.05" fill="#3e0049"/>
<rect x="755.44" y="594.00" width="18.08" height="8.05" fill="#3a004c"/>
<rect x="755.44" y="586.00" width="18.08" height="8.05" fill="#350052"/>
<rect x="755.44" y="578.00" width="18.08" height="8.05" fill="#2f0058"/>
<rect x="755.44" y="570.00" width="18.08" height="8.05" fill="#270061"/>
<rect x="755.44" y="562.00" width="18.08" height="8.05" fill="#190070"/>
<rect x="755.44" y="554.00" width="18.08" height="8.05" fill="#0a0080"/>
<rect x="755.44" y="546.00" width="18.08" height="8.05" fill="#000685"/>
<rect x="755.44" y="538.00" width="18.08" height="8.05" fill="#002665"/>
<rect x="755.44" y="530.00" width="18.08" height="8.05" fill="#005239"/>
<rect x="755.44" y="522.00" width="18.08" height="8.05" fill="#006c1f"/>
<rect x="755.44" y="514.00" width="18.08" height="8.05" fill="#008407"/>
<rect x="755.44" y="506.00" width="18.08" height="8.05" fill="#078d00"/>
<rect x="755.44" y="498.00" width="18.08" height="8.05" fill="#0b8e00"/>
<rect x="755.44" y="490.00" width="18.08" height="8.05" fill="#078d00"/>
<rect x="755.44" y="482.00" width="18.08" height="8.05" fill="#008803"/>
<rect x="755.44" y="474.00" width="18.08" height="8.05" fill="#008308"/>
<rect x="755.44" y="466.00" width="18.08" height="8.05" fill="#007f0c"/>
<rect x="755.44" y="450.00" width="18.08" height="16.05" fill="#007c0f"/>
<rect x="755.44" y="442.00" width="18.08" height="8.05" fill="#008308"/>
<rect x="755.44" y="434.00" width="18.08" height="8.05" fill="#008803"/>
<rect x="755.44" y="426.00" width="18.08" height="8.05" fill="#028c00"/>
<rect x="755.44" y="418.00" width="18.08" height="8.05" fill="#0b8e00"/>
<rect x="755.44" y="410.00" width="18.08" height="8.05" fill="#159100"/>
<rect x="755.44" y="402.00" width="18.08" height="8.05" fill="#239600"/>
<rect x="755.44" y="394.00" width="18.08" height="8.05" fill="#359b00"/>
<rect x="755.44" y="386.00" width="18.08" height="8.05" fill="#4da200"/>
<rect x="755.44" y="378.00" width="18.08" height="8.05" fill="#82b300"/>
<rect x="755.44" y="370.00" width="18.08" height="8.05" fill="#93b800"/>
<rect x="755.44" y="362.00" width="18.08" height="8.05" fill="#aabf00"/>
<rect x="755.44" y="354.00" width="18.08" height="8.05" fill="#c8c800"/>
<rect x="755.44" y="346.00" width="18.08" height="8.05" fill="#c8af00"/>
<rect x="755.44" y="338.00" width="18.08" height="8.05" fill="#c8a500"/>
<rect x="755.44" y="330.00" width="18.08" height="8.05" fill="#c8b900"/>
<rect x="755.44" y="322.00" width="18.08" height="8.05" fill="#b6c200"/>
<rect x="755.44" y="314.00" width="18.08" height="8.05" fill="#6bac00"/>
<rect x="755.44" y="306.00" width="18.08" height="8.05" fill="#078d00"/>
<rect x="755.44" y="298.00" width="18.08" height="8.05" fill="#005437"/>
<rect x="755.44" y="290.00" width="18.08" height="8.05" fill="#003655"/>
<rect x="755.44" y="282.00" width="18.08" height="8.05" fill="#000685"/>
<rect x="755.44" y="274.00" width="18.08" height="8.05" fill="#060085"/>
<rect x="755.44" y="266.00" width="18.08" height="8.05" fill="#0d007d"/>
<rect x="755.44" y="258.00" width="18.08" height="8.05" fill="#140076"/>
<rect x="755.44" y="250.00" width="18.08" height="8.05" fill="#190070"/>
<rect x="755.44" y="242.00" width="18.08" height="8.05" fill="#1e006b"/>
<rect x="755.44" y="234.00" width="18.08" height="8.05" fill="#220066"/>
<rect x="755.44" y="226.00" width="18.08" height="8.05" fill="#270061"/>
<rect x="755.44" y="218.00" width="18.08" height="8.05" fill="#2a005e"/>
<rect x="755.44" y="210.00" width="18.08" height="8.05" fill="#2d005b"/>
<rect x="755.44" y="194.00" width="18.08" height="16.05" fill="#2f0058"/>
<rect x="755.44" y="170.00" width="18.08" height="24.05" fill="#0c000c"/>
<rect x="773.47" y="706.00" width="18.08" height="8.05" fill="#230024"/>
<rect x="773.47" y="698.00" width="18.08" height="8.05" fill="#240025"/>
<rect x="773.47" y="690.00" width="18.08" height="8.05" fill="#250026"/>
<rect x="773.47" y="682.00" width="18.08" height="8.05" fill="#270028"/>
<rect x="773.47" y="674.00" width="18.08" height="8.05" fill="#28002a"/>
<rect x="773.47" y="666.00" width="18.08" height="8.05" fill="#2a002c"/>
<rect x="773.47" y="658.00" width="18.08" height="8.05" fill="#2c002d"/>
<rect x="773.47" y="650.00" width="18.08" height="8.05" fill="#2e002f"/>
<rect x="773.47" y="642.00" width="18.08" height="8.05" fill="#310033"/>
<rect x="773.47" y="634.00" width="18.08" height="8.05" fill="#340036"/>
<rect x="773.47" y="626.00" width="18.08" height="8.05" fill="#380039"/>
<rect x="773.47" y="618.00" width="18.08" height="8.05" fill="#3b003d"/>
<rect x="773.47" y="610.00" width="18.08" height="8.05" fill="#3e003f"/>
<rect x="773.47" y="602.00" width="18.08" height="8.05" fill="#400042"/>
<rect x="773.47" y="594.00" width="18.08" height="8.05" fill="#410045"/>
<rect x="773.47" y="586.00" width="18.08" height="8.05" fill="#400047"/>
<rect x="773.47" y="578.00" width="18.08" height="8.05" fill="#3e0049"/>
<rect x="773.47" y="570.00" width="18.08" height="8.05" fill="#3a004c"/>
<rect x="773.47" y="562.00" width="18.08" height="8.05" fill="#350052"/>
<rect x="773.47" y="554.00" width="18.08" height="8.05" fill="#2f0058"/>
<rect x="773.47" y="546.00" width="18.08" height="8.05" fill="#220066"/>
<rect x="773.47" y="538.00" width="18.08" height="8.05" fill="#110079"/>
<rect x="773.47" y="530.00" width="18.08" height="8.05" fill="#01008a"/>
<rect x="773.47" y="522.00" width="18.08" height="8.05" fill="#001e6d"/>
<rect x="773.47" y="514.00" width="18.08" height="8.05" fill="#004744"/>
<rect x="773.47" y="506.00" width="18.08" height="8.05" fill="#006229"/>
<rect x="773.47" y="498.00" width="18.08" height="8.05" fill="#007b10"/>
<rect x="773.47" y="482.00" width="18.08" height="16.05" fill="#008308"/>
<rect x="773.47" y="474.00" width="18.08" height="8.05" fill="#007b10"/>
<rect x="773.47" y="466.00" width="18.08" height="8.05" fill="#007318"/>
<rect x="773.47" y="458.00" width="18.08" height="8.05" fill="#006c1f"/>
<rect x="773.47" y="442.00" width="18.08" height="16.05" fill="#006724"/>
<rect x="773.47" y="434.00" width="18.08" height="8.05" fill="#006c1f"/>
<rect x="773.47" y="426.00" width="18.08" height="8.05" fill="#007318"/>
<rect x="773.47" y="418.00" width="18.08" height="8.05" fill="#007912"/>
<rect x="773.47" y="410.00" width="18.08" height="8.05" fill="#008407"/>
<rect x="773.47" y="402.00" width="18.08" height="8.05" fill="#008b00"/>
<rect x="773.47" y="394.00" width="18.08" height="8.05" fill="#0e8f00"/>
<rect x="773.47" y="386.00" width="18.08" height="8.05" fill="#1e9400"/>
<rect x="773.47" y="378.00" width="18.08" height="8.05" fill="#2a9800"/>
<rect x="773.47" y="370.00" width="18.08" height="8.05" fill="#419f00"/>
<rect x="773.47" y="362.00" width="18.08" height="8.05" fill="#64aa00"/>
<rect x="773.47" y="354.00" width="18.08" height="8.05" fill="#82b300"/>
<rect x="773.47" y="346.00" width="18.08" height="8.05" fill="#a5bd00"/>
<rect x="773.47" y="338.00" width="18.08" height="8.05" fill="#c1c600"/>
<rect x="773.47" y="330.00" width="18.08" height="8.05" fill="#c6c700"/>
<rect x="773.47" y="322.00" width="18.08" height="8.05" fill="#bdc500"/>
<rect x="773.47" y="314.00" width="18.08" height="8.05" fill="#9aba00"/>
<rect x="773.47" y="306.00" width="18.08" height="8.05" fill="#58a600"/>
<rect x="773.47" y="298.00" width="18.08" height="8.05" fill="#129100"/>
<rect x="773.47" y="290.00" width="18.08" height="8.05" fill="#004f3c"/>
<rect x="773.47" y="282.00" width="18.08" height="8.05" fill="#000685"/>
<rect x="773.47" y="274.00" width="18.08" height="8.05" fill="#0a0080"/>
<rect x="773.47" y="266.00" width="18.08" height="8.05" fill="#120078"/>
<rect x="773.47" y="258.00" width="18.08" height="8.05" fill="#190070"/>
<rect x="773.47" y="250.00" width="18.08" height="8.05" fill="#1b006e"/>
<rect x="773.47" y="242.00" width="18.08" height="8.05" fill="#1e006b"/>
<rect x="773.47" y="234.00" width="18.08" height="8.05" fill="#200068"/>
<rect x="773.47" y="226.00" width="18.08" height="8.05" fill="#230066"/>
<rect x="773.47" y="218.00" width="18.08" height="8.05" fill="#250063"/>
<rect x="773.47" y="210.00" width="18.08" height="8.05" fill="#280060"/>
<rect x="773.47" y="202.00" width="18.08" height="8.05" fill="#2a005d"/>
<rect x="773.47" y="194.00" width="18.08" height="8.05" fill="#2d005b"/>
<rect x="773.47" y="178.00" width="18.08" height="16.05" fill="#2f0058"/>
<rect x="773.47" y="170.00" width="18.08" height="8.05" fill="#0c000c"/>
</g>
<rect x="142.5" y="170" width="649" height="648" fill="none" stroke="#000" stroke-width="1.5"/>
<path d="M142.50 818 v-12.5 M142.50 170 v12.5 M160.53 818 v-6 M160.53 170 v6 M178.56 818 v-6 M178.56 170 v6 M196.58 818 v-6 M196.58 170 v6 M214.61 818 v-6 M214.61 170 v6 M232.64 818 v-12.5 M232.64 170 v12.5 M250.67 818 v-6 M250.67 170 v6 M268.69 818 v-6 M268.69 170 v6 M286.72 818 v-6 M286.72 170 v6 M304.75 818 v-6 M304.75 170 v6 M322.78 818 v-12.5 M322.78 170 v12.5 M340.81 818 v-6 M340.81 170 v6 M358.83 818 v-6 M358.83 170 v6 M376.86 818 v-6 M376.86 170 v6 M394.89 818 v-6 M394.89 170 v6 M412.92 818 v-12.5 M412.92 170 v12.5 M430.94 818 v-6 M430.94 170 v6 M448.97 818 v-6 M448.97 170 v6 M467.00 818 v-6 M467.00 170 v6 M485.03 818 v-6 M485.03 170 v6 M503.06 818 v-12.5 M503.06 170 v12.5 M521.08 818 v-6 M521.08 170 v6 M539.11 818 v-6 M539.11 170 v6 M557.14 818 v-6 M557.14 170 v6 M575.17 818 v-6 M575.17 170 v6 M593.19 818 v-12.5 M593.19 170 v12.5 M611.22 818 v-6 M611.22 170 v6 M629.25 818 v-6 M629.25 170 v6 M647.28 818 v-6 M647.28 170 v6 M665.31 818 v-6 M665.31 170 v6 M683.33 818 v-12.5 M683.33 170 v12.5 M701.36 818 v-6 M701.36 170 v6 M719.39 818 v-6 M719.39 170 v6 M737.42 818 v-6 M737.42 170 v6 M755.44 818 v-6 M755.44 170 v6 M773.47 818 v-12.5 M773.47 170 v12.5 M791.50 818 v-6 M791.50 170 v6 M142.5 818.00 h12.5 M791.5 818.00 h-12.5 M142.5 738.00 h6 M791.5 738.00 h-6 M142.5 658.00 h12.5 M791.5 658.00 h-12.5 M142.5 578.00 h6 M791.5 578.00 h-6 M142.5 498.00 h12.5 M791.5 498.00 h-12.5 M142.5 418.00 h6 M791.5 418.00 h-6 M142.5 338.00 h12.5 M791.5 338.00 h-12.5 M142.5 258.00 h6 M791.5 258.00 h-6 M142.5 178.00 h12.5 M791.5 178.00 h-12.5" stroke="#000" stroke-width="1.1" fill="none"/>
<text x="143.00" y="851.8" text-anchor="middle">0</text>
<text x="233.14" y="851.8" text-anchor="middle">50</text>
<text x="323.28" y="851.8" text-anchor="middle">100</text>
<text x="413.42" y="851.8" text-anchor="middle">150</text>
<text x="503.56" y="851.8" text-anchor="middle">200</text>
<text x="593.69" y="851.8" text-anchor="middle">250</text>
<text x="683.83" y="851.8" text-anchor="middle">300</text>
<text x="773.97" y="851.8" text-anchor="middle">350</text>
<text x="129" y="825.00" text-anchor="end">-40</text>
<text x="129" y="665.00" text-anchor="end">-20</text>
<text x="129" y="505.00" text-anchor="end">0</text>
<text x="129" y="345.00" text-anchor="end">20</text>
<text x="129" y="185.00" text-anchor="end">40</text>
<text x="-1" y="418">Latitude</text>
<text x="467.5" y="893" text-anchor="middle">Longitude</text>
<text x="470.5" y="156" text-anchor="middle" xml:space="preserve" style="white-space:pre">PBf20170715  UT: 17.75  mjd: 57949</text>
</svg></body></html>
